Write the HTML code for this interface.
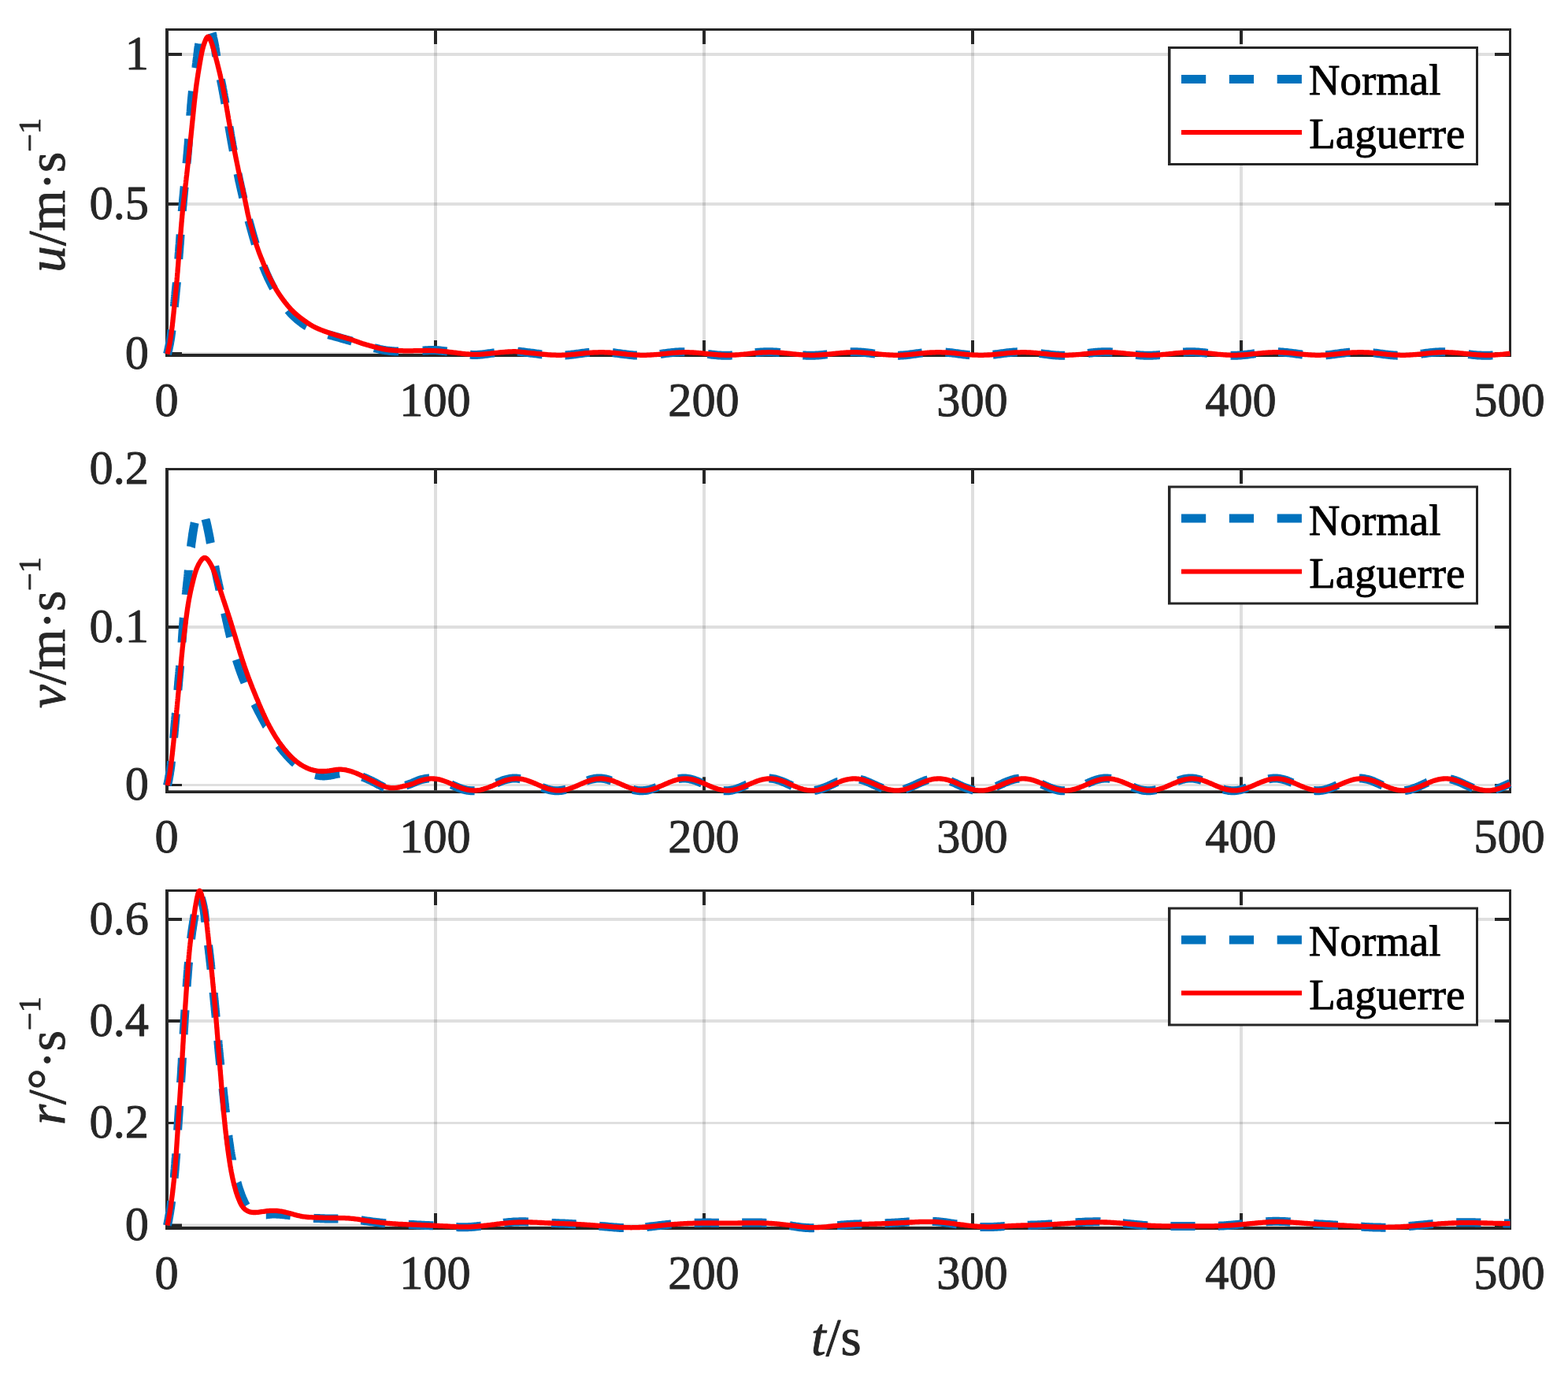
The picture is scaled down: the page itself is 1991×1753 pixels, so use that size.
<!DOCTYPE html>
<html lang="en">
<head>
<meta charset="utf-8">
<title>Normal vs Laguerre velocity responses</title>
<style>
html,body{margin:0;padding:0;background:#fff;}
body{width:1991px;height:1753px;overflow:hidden;}
svg{display:block;}
text{font-family:"Liberation Serif",serif;fill:#262626;stroke:#262626;stroke-width:0.9px;stroke-linejoin:round;}
.tk{font-size:60.4px;}
.lab{font-size:67.1px;}
.leg{font-size:54.9px;fill:#000;stroke:#000;}
.it{font-style:italic;}
.sup{font-size:40.3px;}
</style>
</head>
<body>
<svg width="1991" height="1753" viewBox="0 0 1991 1753" role="img" aria-label="Comparison of Normal and Laguerre responses: u, v and r versus t">
<rect width="1991" height="1753" fill="#fff"/>
<g id="axes1">
<g class="grid">
<rect x="551" y="39" width="4" height="410" fill="rgba(38,38,38,0.15)"/>
<rect x="892" y="39" width="4" height="410" fill="rgba(38,38,38,0.15)"/>
<rect x="1233" y="39" width="4" height="410" fill="rgba(38,38,38,0.15)"/>
<rect x="1574" y="39" width="4" height="410" fill="rgba(38,38,38,0.15)"/>
<rect x="214" y="447" width="1702" height="4" fill="rgba(38,38,38,0.15)"/>
<rect x="214" y="257" width="1702" height="4" fill="rgba(38,38,38,0.15)"/>
<rect x="214" y="67" width="1702" height="4" fill="rgba(38,38,38,0.15)"/>
</g>
<g class="box">
<rect x="210" y="36" width="4" height="417" fill="#262626"/>
<rect x="1916" y="36" width="3" height="417" fill="#262626"/>
<rect x="210" y="36" width="1709" height="3" fill="#262626"/>
<rect x="210" y="449" width="1709" height="4" fill="#262626"/>
<rect x="551" y="432" width="4" height="17" fill="#262626"/>
<rect x="551" y="39" width="4" height="17" fill="#262626"/>
<rect x="892" y="432" width="4" height="17" fill="#262626"/>
<rect x="892" y="39" width="4" height="17" fill="#262626"/>
<rect x="1233" y="432" width="4" height="17" fill="#262626"/>
<rect x="1233" y="39" width="4" height="17" fill="#262626"/>
<rect x="1574" y="432" width="4" height="17" fill="#262626"/>
<rect x="1574" y="39" width="4" height="17" fill="#262626"/>
<rect x="214" y="447" width="17" height="4" fill="#262626"/>
<rect x="1898" y="447" width="18" height="4" fill="#262626"/>
<rect x="214" y="257" width="17" height="4" fill="#262626"/>
<rect x="1898" y="257" width="18" height="4" fill="#262626"/>
<rect x="214" y="67" width="17" height="4" fill="#262626"/>
<rect x="1898" y="67" width="18" height="4" fill="#262626"/>
</g>
<path class="normal" d="M212.5 449.5L212.9 448.0L213.2 446.6L213.6 445.1L213.9 443.7L214.2 442.2L214.5 440.7L214.8 439.3L215.1 437.8L215.4 436.3L215.7 434.8L215.9 433.4L216.2 431.9L216.4 430.4L216.7 428.9L216.9 427.4L217.1 425.9L217.3 424.5L217.5 423.0L217.7 421.5L217.9 420.0L218.1 418.8M221.3 389.4L221.4 388.7L221.5 387.2L221.7 385.7L221.8 384.2L222.0 382.7L222.1 381.2L222.3 379.7L222.4 378.2L222.6 376.7L222.7 375.2L222.9 373.7L223.0 372.2L223.1 370.7L223.3 369.3L223.4 367.8L223.6 366.3L223.7 364.8L223.9 363.3L224.0 361.8L224.2 360.3L224.3 358.8L224.3 358.3M226.8 328.8L226.9 327.4L227.0 325.9L227.1 324.4L227.2 322.9L227.3 321.4L227.5 319.9L227.6 318.4L227.7 316.9L227.8 315.4L227.9 313.9L228.0 312.4L228.1 310.9L228.3 309.4L228.4 307.9L228.5 306.4L228.6 304.9L228.7 303.4L228.8 302.0L228.9 300.5L229.0 299.0L229.1 297.6M231.3 268.1L231.3 267.5L231.5 266.0L231.6 264.5L231.7 263.0L231.9 261.5L232.0 260.1L232.1 258.6L232.3 257.1L232.4 255.6L232.5 254.1L232.7 252.6L232.8 251.1L233.0 249.6L233.1 248.1L233.3 246.6L233.4 245.1L233.5 243.6L233.7 242.1L233.8 240.6L234.0 239.1L234.1 237.6L234.2 237.0M237.0 207.5L237.1 206.3L237.3 204.8L237.4 203.3L237.6 201.8L237.7 200.3L237.8 198.8L237.9 197.3L238.1 195.8L238.2 194.3L238.3 192.8L238.5 191.3L238.6 189.8L238.7 188.3L238.8 186.8L238.9 185.3L239.1 183.9L239.2 182.4L239.3 180.9L239.4 179.4L239.5 177.9L239.7 176.4M241.8 146.8L241.8 146.4L241.9 144.9L242.0 143.4L242.2 141.9L242.3 140.4L242.4 138.9L242.5 137.4L242.6 135.9L242.7 134.4L242.8 133.0L243.0 131.5L243.1 130.0L243.2 128.5L243.3 127.0L243.5 125.5L243.6 124.0L243.8 122.5L243.9 121.0L244.1 119.5L244.2 118.0L244.4 116.5L244.5 115.7M248.7 86.4L248.9 85.3L249.1 83.8L249.3 82.4L249.5 80.9L249.7 79.4L249.8 77.9L250.0 76.4L250.2 74.9L250.4 73.4L250.6 71.9L250.7 70.4L250.9 68.9L251.1 67.5L251.3 66.0L251.4 64.5L251.6 63.0L251.8 61.5L252.0 60.0L252.3 58.5L252.5 57.0L252.8 55.6L252.8 55.5M269.2 41.9L270.0 44.6L270.4 47.3L270.7 48.7L271.1 50.2L271.4 51.6L271.7 53.1L272.0 54.6L272.3 56.1L272.6 57.5L272.9 59.0L273.1 60.5L273.4 62.0L273.6 63.4L273.8 64.9L274.0 66.4L274.2 67.9L274.5 69.4L274.7 70.9L274.8 71.6M280.3 100.7L280.5 101.8L280.8 103.3L281.1 104.8L281.4 106.3L281.7 107.7L282.0 109.2L282.3 110.7L282.5 112.1L282.8 113.6L283.1 115.1L283.4 116.6L283.6 118.1L283.9 119.5L284.2 121.0L284.4 122.5L284.7 124.0L285.0 125.4L285.2 126.9L285.5 128.4L285.7 129.9L286.0 131.4L286.0 131.4M290.9 160.6L290.9 161.0L291.2 162.4L291.4 163.9L291.7 165.4L291.9 166.9L292.2 168.4L292.4 169.8L292.7 171.3L292.9 172.8L293.2 174.3L293.5 175.7L293.7 177.2L294.0 178.7L294.2 180.2L294.5 181.7L294.8 183.1L295.0 184.6L295.3 186.1L295.6 187.6L295.9 189.0L296.1 190.5L296.3 191.4M302.0 220.5L302.2 221.4L302.5 222.9L302.8 224.4L303.1 225.9L303.4 227.3L303.7 228.8L304.0 230.3L304.4 231.7L304.7 233.2L305.0 234.7L305.3 236.1L305.7 237.6L306.0 239.0L306.3 240.5L306.7 242.0L307.0 243.4L307.3 244.9L307.7 246.4L308.0 247.8L308.3 249.3L308.7 250.7L308.7 250.9M315.8 279.7L315.9 279.9L316.3 281.3L316.7 282.8L317.1 284.2L317.5 285.7L317.9 287.1L318.3 288.6L318.7 290.0L319.1 291.4L319.5 292.9L319.9 294.3L320.3 295.8L320.7 297.2L321.1 298.7L321.5 300.1L321.9 301.6L322.4 303.0L322.8 304.4L323.2 305.9L323.6 307.3L324.0 308.8L324.3 309.7M334.3 337.6L334.6 338.5L335.1 339.9L335.7 341.2L336.3 342.6L336.8 344.0L337.4 345.4L338.0 346.8L338.6 348.2L339.2 349.5L339.8 350.9L340.4 352.3L341.1 353.6L341.7 355.0L342.4 356.3L343.0 357.7L343.7 359.0L344.4 360.4L345.0 361.7L345.7 363.0L346.4 364.4L347.2 365.7L347.3 366.0M366.0 393.8L366.4 394.3L367.4 395.4L368.4 396.6L369.4 397.7L370.5 398.8L371.5 399.8L372.6 400.9L373.7 401.9L374.8 402.9L375.9 403.9L377.0 404.9L378.2 405.9L379.3 406.8L380.5 407.8L381.7 408.7L382.9 409.6L384.1 410.5L385.3 411.4L386.6 412.2L387.8 413.1L389.1 413.9L389.5 414.1M417.0 424.8L418.3 425.2L419.8 425.5L421.2 425.9L422.7 426.3L424.1 426.7L425.6 427.1L427.0 427.5L428.5 427.9L429.9 428.3L431.4 428.7L432.8 429.1L434.2 429.6L435.7 430.0L437.1 430.4L438.6 430.8L440.0 431.2L441.5 431.6L442.9 432.0L444.4 432.4L445.8 432.8L447.0 433.2M475.2 441.6L476.0 441.8L477.5 442.2L478.9 442.5L480.4 442.9L481.8 443.3L483.3 443.6L484.8 443.9L486.2 444.2L487.7 444.4L489.2 444.7L490.7 444.9L492.2 445.1L493.6 445.3L495.1 445.5L496.6 445.6L498.1 445.7L499.6 445.8L501.1 445.9L502.6 446.0L504.1 446.0L505.6 446.1L506.0 446.1M536.5 445.0L537.1 445.0L538.6 444.9L540.1 444.8L541.6 444.7L543.1 444.7L544.6 444.6L546.1 444.6L547.6 444.5L549.1 444.5L550.6 444.5L552.1 444.6L553.6 444.6L555.1 444.7L556.6 444.8L558.1 445.0L559.6 445.1L561.1 445.3L562.6 445.4L564.1 445.6L565.6 445.8L567.1 446.1L567.6 446.1M596.9 450.2L598.3 450.3L599.8 450.4L601.3 450.4L602.8 450.4L604.3 450.4L605.8 450.4L607.3 450.3L608.8 450.2L610.3 450.1L611.8 449.9L613.3 449.8L614.8 449.6L616.2 449.4L617.7 449.2L619.2 449.0L620.7 448.8L622.2 448.6L623.7 448.4L625.2 448.2L626.7 448.0L627.9 447.9M657.2 446.1L658.1 446.2L659.6 446.3L661.1 446.5L662.6 446.7L664.0 446.8L665.5 447.0L667.0 447.2L668.5 447.4L670.0 447.6L671.5 447.8L673.0 448.0L674.5 448.2L676.0 448.3L677.5 448.5L678.9 448.7L680.4 448.9L681.9 449.1L683.4 449.3L684.9 449.5L686.4 449.7L687.9 449.9L688.2 449.9M717.6 450.9L717.8 450.9L719.3 450.8L720.8 450.7L722.3 450.5L723.8 450.4L725.3 450.2L726.8 450.0L728.3 449.9L729.8 449.7L731.2 449.5L732.7 449.3L734.2 449.1L735.7 448.9L737.2 448.7L738.7 448.5L740.2 448.3L741.7 448.1L743.1 447.9L744.6 447.7L746.1 447.6L747.6 447.4L748.6 447.3M777.9 447.7L779.1 447.8L780.6 448.0L782.0 448.2L783.5 448.4L785.0 448.6L786.5 448.8L788.0 449.0L789.5 449.2L791.0 449.4L792.5 449.5L794.0 449.7L795.4 449.9L796.9 450.1L798.4 450.3L799.9 450.4L801.4 450.6L802.9 450.7L804.4 450.9L805.9 451.0L807.4 451.1L808.9 451.1L808.9 451.1M838.3 449.5L838.8 449.4L840.3 449.2L841.8 449.0L843.3 448.8L844.8 448.6L846.2 448.4L847.7 448.2L849.2 448.0L850.7 447.9L852.2 447.7L853.7 447.5L855.2 447.4L856.7 447.2L858.2 447.1L859.7 447.0L861.2 446.9L862.7 446.8L864.2 446.8L865.7 446.7L867.2 446.7L868.7 446.7L869.3 446.7M898.7 449.4L900.0 449.6L901.5 449.8L903.0 450.0L904.5 450.2L906.0 450.3L907.5 450.5L909.0 450.6L910.5 450.8L912.0 450.9L913.5 451.0L915.0 451.1L916.5 451.2L918.0 451.2L919.5 451.3L921.0 451.3L922.5 451.3L924.0 451.3L925.5 451.3L927.0 451.2L928.5 451.1L929.8 451.1M959.0 447.7L959.8 447.6L961.3 447.5L962.8 447.3L964.3 447.2L965.8 447.1L967.3 447.0L968.8 446.9L970.3 446.8L971.8 446.8L973.3 446.7L974.8 446.7L976.3 446.7L977.8 446.7L979.3 446.7L980.8 446.8L982.3 446.9L983.8 446.9L985.3 447.0L986.7 447.2L988.2 447.3L989.7 447.4L990.2 447.5M1019.4 450.9L1019.5 450.9L1021.0 451.0L1022.5 451.1L1024.0 451.2L1025.5 451.2L1027.0 451.3L1028.5 451.3L1030.0 451.3L1031.5 451.3L1033.0 451.2L1034.5 451.2L1036.0 451.1L1037.5 451.0L1039.0 450.9L1040.5 450.8L1042.0 450.7L1043.5 450.6L1045.0 450.4L1046.5 450.2L1048.0 450.1L1049.5 449.9L1050.5 449.8M1079.7 446.7L1080.8 446.7L1082.3 446.7L1083.8 446.7L1085.3 446.7L1086.8 446.8L1088.3 446.8L1089.8 446.9L1091.3 447.0L1092.8 447.1L1094.3 447.2L1095.8 447.3L1097.3 447.5L1098.8 447.6L1100.3 447.8L1101.8 448.0L1103.3 448.1L1104.8 448.3L1106.3 448.5L1107.7 448.7L1109.2 448.9L1110.7 449.1L1110.8 449.1M1140.1 451.2L1140.6 451.2L1142.1 451.2L1143.6 451.1L1145.1 451.0L1146.6 450.9L1148.1 450.8L1149.6 450.7L1151.1 450.5L1152.6 450.4L1154.1 450.2L1155.6 450.0L1157.1 449.8L1158.6 449.6L1160.0 449.4L1161.5 449.2L1163.0 449.0L1164.5 448.8L1166.0 448.6L1167.5 448.4L1169.0 448.2L1170.5 448.1L1171.1 448.0M1200.5 447.1L1201.9 447.2L1203.4 447.4L1204.9 447.5L1206.4 447.7L1207.9 447.8L1209.4 448.0L1210.8 448.2L1212.3 448.4L1213.8 448.6L1215.3 448.8L1216.8 449.0L1218.3 449.2L1219.8 449.4L1221.3 449.6L1222.7 449.8L1224.2 450.0L1225.7 450.1L1227.2 450.3L1228.7 450.5L1230.2 450.6L1231.4 450.7M1260.8 450.2L1261.7 450.1L1263.1 450.0L1264.6 449.8L1266.1 449.6L1267.6 449.4L1269.1 449.2L1270.6 449.0L1272.1 448.8L1273.6 448.6L1275.0 448.4L1276.5 448.2L1278.0 448.0L1279.5 447.8L1281.0 447.7L1282.5 447.5L1284.0 447.4L1285.5 447.2L1287.0 447.1L1288.5 447.0L1290.0 446.9L1291.5 446.8L1291.8 446.8M1321.2 448.6L1321.4 448.7L1322.9 448.9L1324.4 449.1L1325.9 449.3L1327.3 449.4L1328.8 449.6L1330.3 449.8L1331.8 450.0L1333.3 450.2L1334.8 450.4L1336.3 450.5L1337.8 450.7L1339.3 450.8L1340.8 450.9L1342.3 451.0L1343.8 451.1L1345.3 451.2L1346.8 451.2L1348.3 451.3L1349.8 451.3L1351.3 451.3L1352.2 451.3M1381.5 448.5L1382.6 448.3L1384.1 448.1L1385.6 448.0L1387.1 447.8L1388.6 447.6L1390.1 447.5L1391.6 447.3L1393.1 447.2L1394.6 447.1L1396.1 447.0L1397.6 446.9L1399.1 446.8L1400.6 446.8L1402.1 446.7L1403.6 446.7L1405.1 446.7L1406.6 446.7L1408.1 446.8L1409.6 446.8L1411.1 446.9L1412.6 447.0L1412.6 447.0M1441.9 450.4L1442.4 450.4L1443.9 450.6L1445.4 450.7L1446.8 450.8L1448.3 450.9L1449.8 451.0L1451.3 451.1L1452.8 451.2L1454.3 451.2L1455.8 451.3L1457.3 451.3L1458.8 451.3L1460.3 451.3L1461.8 451.2L1463.3 451.2L1464.8 451.1L1466.3 451.0L1467.8 450.9L1469.3 450.8L1470.8 450.7L1472.3 450.5L1473.0 450.5M1502.3 447.0L1503.6 446.9L1505.1 446.9L1506.6 446.8L1508.1 446.7L1509.6 446.7L1511.1 446.7L1512.6 446.7L1514.1 446.7L1515.6 446.8L1517.1 446.8L1518.6 446.9L1520.1 447.0L1521.6 447.1L1523.1 447.2L1524.6 447.4L1526.1 447.5L1527.6 447.7L1529.1 447.8L1530.6 448.0L1532.1 448.2L1533.4 448.4M1562.6 451.3L1563.4 451.3L1564.9 451.3L1566.4 451.3L1567.9 451.3L1569.4 451.2L1570.9 451.2L1572.4 451.1L1573.9 451.0L1575.4 450.9L1576.9 450.8L1578.4 450.6L1579.9 450.5L1581.4 450.3L1582.9 450.2L1584.4 450.0L1585.9 449.8L1587.3 449.6L1588.8 449.4L1590.3 449.2L1591.8 449.0L1593.3 448.8L1593.7 448.7M1623.0 446.8L1623.2 446.8L1624.7 446.8L1626.2 446.9L1627.7 447.0L1629.2 447.1L1630.7 447.3L1632.2 447.4L1633.7 447.5L1635.2 447.7L1636.7 447.9L1638.2 448.1L1639.6 448.2L1641.1 448.4L1642.6 448.6L1644.1 448.8L1645.6 449.0L1647.1 449.2L1648.6 449.4L1650.1 449.6L1651.5 449.8L1653.0 450.0L1654.0 450.1M1683.3 450.8L1684.5 450.7L1686.0 450.6L1687.5 450.4L1689.0 450.3L1690.5 450.1L1691.9 449.9L1693.4 449.7L1694.9 449.5L1696.4 449.3L1697.9 449.1L1699.4 448.9L1700.9 448.7L1702.4 448.5L1703.8 448.3L1705.3 448.2L1706.8 448.0L1708.3 447.8L1709.8 447.6L1711.3 447.5L1712.8 447.3L1714.3 447.2L1714.3 447.2M1743.7 447.9L1744.2 447.9L1745.7 448.1L1747.2 448.3L1748.7 448.5L1750.2 448.7L1751.7 448.9L1753.2 449.1L1754.7 449.3L1756.1 449.5L1757.6 449.7L1759.1 449.9L1760.6 450.1L1762.1 450.2L1763.6 450.4L1765.1 450.5L1766.6 450.7L1768.1 450.8L1769.6 450.9L1771.1 451.0L1772.6 451.1L1774.1 451.2L1774.7 451.2M1804.1 449.3L1805.5 449.1L1807.0 448.9L1808.4 448.7L1809.9 448.5L1811.4 448.3L1812.9 448.1L1814.4 447.9L1815.9 447.7L1817.4 447.6L1818.9 447.4L1820.4 447.3L1821.9 447.2L1823.4 447.0L1824.9 446.9L1826.4 446.9L1827.9 446.8L1829.4 446.7L1830.9 446.7L1832.4 446.7L1833.9 446.7L1835.1 446.7M1864.4 449.6L1865.2 449.7L1866.7 449.9L1868.2 450.1L1869.7 450.3L1871.2 450.4L1872.7 450.6L1874.2 450.7L1875.6 450.9L1877.1 451.0L1878.6 451.1L1880.1 451.1L1881.6 451.2L1883.1 451.3L1884.6 451.3L1886.1 451.3L1887.6 451.3L1889.1 451.3L1890.6 451.2L1892.1 451.2L1893.6 451.1L1895.1 451.0L1895.5 451.0" fill="none" stroke="#0072bd" stroke-width="11.0" stroke-linejoin="round"/>
<path class="laguerre" d="M212.5 449.5L212.9 448.0L213.2 446.6L213.6 445.1L213.9 443.7L214.2 442.2L214.5 440.7L214.8 439.3L215.1 437.8L215.4 436.3L215.7 434.8L215.9 433.4L216.2 431.9L216.4 430.4L216.7 428.9L216.9 427.4L217.1 425.9L217.3 424.5L217.5 423.0L217.7 421.5L217.9 420.0L218.1 418.5L218.3 417.0L218.5 415.5L218.7 414.0L218.9 412.5L219.0 411.1L219.2 409.6L219.4 408.1L219.5 406.6L219.7 405.1L219.8 403.6L220.0 402.1L220.2 400.6L220.3 399.1L220.5 397.6L220.6 396.1L220.8 394.6L220.9 393.1L221.1 391.6L221.2 390.2L221.4 388.7L221.5 387.2L221.7 385.7L221.8 384.2L222.0 382.7L222.1 381.2L222.3 379.7L222.4 378.2L222.6 376.7L222.7 375.2L222.9 373.7L223.0 372.2L223.2 370.7L223.3 369.2L223.4 367.8L223.6 366.3L223.7 364.8L223.9 363.3L224.0 361.8L224.2 360.3L224.3 358.8L224.4 357.3L224.6 355.8L224.7 354.3L224.8 352.8L225.0 351.3L225.1 349.8L225.2 348.3L225.3 346.8L225.5 345.3L225.6 343.8L225.7 342.3L225.8 340.8L225.9 339.4L226.1 337.9L226.2 336.4L226.3 334.9L226.4 333.4L226.5 331.9L226.6 330.4L226.8 328.9L226.9 327.4L227.0 325.9L227.1 324.4L227.2 322.9L227.4 321.4L227.5 319.9L227.6 318.4L227.7 316.9L227.8 315.4L228.0 313.9L228.1 312.4L228.2 310.9L228.3 309.4L228.5 307.9L228.6 306.4L228.7 304.9L228.8 303.4L228.9 302.0L229.1 300.5L229.2 299.0L229.3 297.5L229.4 296.0L229.6 294.5L229.7 293.0L229.8 291.5L229.9 290.0L230.0 288.5L230.2 287.0L230.3 285.5L230.4 284.0L230.5 282.5L230.7 281.0L230.8 279.5L230.9 278.0L231.1 276.5L231.2 275.0L231.3 273.5L231.5 272.0L231.6 270.5L231.7 269.1L231.9 267.6L232.0 266.1L232.2 264.6L232.3 263.1L232.5 261.6L232.7 260.1L232.8 258.6L233.0 257.1L233.2 255.6L233.3 254.1L233.5 252.6L233.7 251.2L233.9 249.7L234.0 248.2L234.2 246.7L234.4 245.2L234.6 243.7L234.7 242.2L234.9 240.7L235.1 239.2L235.3 237.7L235.4 236.2L235.6 234.8L235.8 233.3L236.0 231.8L236.1 230.3L236.3 228.8L236.5 227.3L236.6 225.8L236.8 224.3L237.0 222.8L237.2 221.3L237.3 219.9L237.5 218.4L237.7 216.9L237.8 215.4L238.0 213.9L238.2 212.4L238.3 210.9L238.5 209.4L238.7 207.9L238.8 206.4L239.0 204.9L239.1 203.4L239.3 201.9L239.5 200.4L239.6 199.0L239.8 197.5L240.0 196.0L240.1 194.5L240.3 193.0L240.5 191.5L240.6 190.0L240.8 188.5L240.9 187.0L241.1 185.5L241.3 184.0L241.4 182.5L241.6 181.0L241.7 179.5L241.9 178.0L242.0 176.5L242.2 175.0L242.4 173.5L242.5 172.0L242.7 170.6L242.8 169.1L243.0 167.6L243.1 166.1L243.3 164.6L243.4 163.1L243.6 161.6L243.7 160.1L243.9 158.6L244.0 157.2L244.2 155.7L244.3 154.2L244.5 152.7L244.6 151.2L244.8 149.8L244.9 148.3L245.1 146.8L245.2 145.3L245.4 143.8L245.5 142.4L245.7 140.9L245.8 139.4L246.0 137.9L246.1 136.5L246.3 135.0L246.4 133.5L246.6 132.0L246.7 130.5L246.9 129.0L247.1 127.6L247.2 126.1L247.4 124.6L247.6 123.1L247.7 121.6L247.9 120.1L248.1 118.6L248.3 117.1L248.5 115.6L248.6 114.1L248.8 112.6L249.0 111.1L249.2 109.5L249.4 108.0L249.6 106.5L249.8 105.0L250.1 103.4L250.3 101.9L250.5 100.4L250.7 98.8L251.0 97.3L251.2 95.8L251.4 94.2L251.7 92.7L251.9 91.2L252.2 89.6L252.4 88.1L252.7 86.6L252.9 85.1L253.2 83.6L253.4 82.2L253.7 80.7L253.9 79.2L254.2 77.8L254.4 76.4L254.7 75.0L254.9 73.6L255.2 72.2L255.4 70.8L255.7 69.5L256.0 68.2L256.2 66.8L256.5 65.5L256.8 64.2L257.1 62.8L257.5 61.4L257.9 59.9L258.3 58.3L258.9 56.7L259.4 55.0L260.1 53.2L260.8 51.4L261.5 49.7L262.3 48.2L263.1 47.2L263.9 46.6L264.7 46.7L265.5 47.5L266.3 48.7L267.0 50.2L267.7 52.0L268.4 53.8L269.0 55.5L269.5 57.2L270.0 58.8L270.5 60.3L270.9 61.7L271.3 63.1L271.7 64.4L272.0 65.7L272.4 67.0L272.8 68.3L273.1 69.6L273.5 71.0L273.8 72.3L274.2 73.7L274.5 75.1L274.9 76.5L275.3 77.9L275.6 79.3L276.0 80.8L276.4 82.2L276.7 83.7L277.1 85.1L277.5 86.6L277.8 88.1L278.2 89.6L278.6 91.1L278.9 92.6L279.3 94.1L279.6 95.6L280.0 97.1L280.3 98.7L280.7 100.2L281.0 101.7L281.3 103.2L281.7 104.7L282.0 106.2L282.3 107.7L282.6 109.2L282.9 110.7L283.2 112.2L283.5 113.7L283.8 115.2L284.1 116.7L284.4 118.2L284.7 119.7L285.0 121.2L285.2 122.6L285.5 124.1L285.8 125.6L286.1 127.1L286.3 128.5L286.6 130.0L286.8 131.5L287.1 132.9L287.4 134.4L287.6 135.9L287.9 137.3L288.1 138.8L288.4 140.3L288.6 141.7L288.9 143.2L289.1 144.7L289.4 146.1L289.6 147.6L289.9 149.1L290.1 150.5L290.4 152.0L290.6 153.5L290.9 154.9L291.2 156.4L291.4 157.9L291.7 159.3L291.9 160.8L292.2 162.3L292.5 163.7L292.7 165.2L293.0 166.7L293.3 168.2L293.5 169.6L293.8 171.1L294.1 172.6L294.4 174.1L294.6 175.5L294.9 177.0L295.2 178.5L295.5 180.0L295.8 181.4L296.0 182.9L296.3 184.4L296.6 185.9L296.9 187.3L297.2 188.8L297.5 190.3L297.8 191.8L298.1 193.2L298.4 194.7L298.7 196.2L299.0 197.7L299.3 199.1L299.6 200.6L299.9 202.1L300.2 203.6L300.5 205.0L300.8 206.5L301.1 208.0L301.4 209.5L301.7 210.9L302.0 212.4L302.3 213.9L302.6 215.3L302.9 216.8L303.2 218.3L303.6 219.7L303.9 221.2L304.2 222.7L304.5 224.1L304.8 225.6L305.1 227.1L305.5 228.5L305.8 230.0L306.1 231.5L306.4 232.9L306.8 234.4L307.1 235.9L307.4 237.3L307.7 238.8L308.1 240.2L308.4 241.7L308.7 243.2L309.0 244.6L309.4 246.1L309.7 247.6L310.0 249.0L310.3 250.5L310.7 252.0L311.0 253.4L311.3 254.9L311.6 256.4L311.9 257.8L312.2 259.3L312.5 260.8L312.8 262.2L313.1 263.7L313.4 265.2L313.7 266.7L314.0 268.1L314.3 269.6L314.6 271.1L314.9 272.5L315.3 274.0L315.6 275.5L315.9 276.9L316.3 278.4L316.7 279.8L317.0 281.3L317.4 282.7L317.8 284.2L318.2 285.6L318.6 287.1L319.0 288.5L319.4 290.0L319.8 291.4L320.2 292.9L320.6 294.3L321.0 295.8L321.4 297.2L321.9 298.7L322.3 300.1L322.7 301.5L323.1 303.0L323.5 304.4L324.0 305.8L324.4 307.3L324.9 308.7L325.3 310.1L325.8 311.6L326.3 313.0L326.8 314.4L327.3 315.8L327.8 317.2L328.3 318.6L328.8 320.1L329.3 321.5L329.9 322.9L330.4 324.3L331.0 325.7L331.5 327.1L332.1 328.4L332.6 329.8L333.2 331.2L333.8 332.6L334.3 334.0L334.9 335.4L335.5 336.8L336.1 338.2L336.7 339.5L337.3 340.9L337.9 342.3L338.5 343.7L339.1 345.0L339.7 346.4L340.4 347.8L341.0 349.1L341.6 350.5L342.3 351.8L342.9 353.2L343.6 354.5L344.3 355.9L345.0 357.2L345.7 358.5L346.4 359.9L347.1 361.2L347.8 362.5L348.6 363.8L349.3 365.1L350.1 366.4L350.8 367.7L351.6 369.0L352.4 370.2L353.2 371.5L354.0 372.7L354.9 374.0L355.7 375.2L356.6 376.5L357.4 377.7L358.3 378.9L359.2 380.1L360.1 381.3L361.0 382.5L361.9 383.7L362.9 384.9L363.8 386.1L364.7 387.2L365.7 388.4L366.7 389.5L367.7 390.7L368.7 391.8L369.7 392.9L370.8 394.0L371.8 395.0L372.9 396.1L374.0 397.1L375.1 398.1L376.2 399.1L377.4 400.0L378.5 401.0L379.7 401.9L380.9 402.9L382.1 403.8L383.3 404.7L384.5 405.6L385.7 406.4L386.9 407.3L388.2 408.2L389.4 409.1L390.6 409.9L391.9 410.8L393.2 411.6L394.4 412.4L395.7 413.1L397.0 413.9L398.3 414.6L399.7 415.3L401.0 415.9L402.4 416.6L403.8 417.2L405.1 417.7L406.5 418.3L407.9 418.9L409.3 419.4L410.7 420.0L412.1 420.5L413.5 421.0L415.0 421.5L416.4 422.0L417.8 422.5L419.2 423.0L420.6 423.5L422.1 423.9L423.5 424.4L424.9 424.8L426.4 425.3L427.8 425.7L429.2 426.1L430.7 426.5L432.1 426.9L433.6 427.4L435.0 427.8L436.5 428.2L437.9 428.6L439.3 429.0L440.8 429.5L442.2 429.9L443.6 430.3L445.1 430.8L446.5 431.3L447.9 431.8L449.3 432.2L450.7 432.8L452.2 433.3L453.6 433.8L455.0 434.3L456.4 434.8L457.8 435.2L459.2 435.7L460.7 436.2L462.1 436.6L463.5 437.0L465.0 437.5L466.4 437.9L467.9 438.3L469.3 438.7L470.8 439.1L472.2 439.5L473.6 439.9L475.1 440.3L476.5 440.7L478.0 441.1L479.5 441.5L480.9 441.8L482.4 442.2L483.8 442.5L485.3 442.8L486.8 443.1L488.3 443.4L489.7 443.7L491.2 443.9L492.7 444.1L494.2 444.3L495.7 444.4L497.2 444.6L498.7 444.7L500.2 444.8L501.7 444.9L503.2 445.0L504.7 445.1L506.2 445.1L507.7 445.2L509.2 445.2L510.7 445.2L512.2 445.3L513.7 445.3L515.2 445.3L516.7 445.3L518.2 445.3L519.7 445.3L521.2 445.3L522.7 445.3L524.2 445.3L525.7 445.2L527.2 445.2L528.7 445.2L530.2 445.2L531.7 445.2L533.2 445.1L534.7 445.1L536.2 445.1L537.7 445.1L539.2 445.0L540.7 445.0L542.2 445.0L543.7 445.0L545.2 445.0L546.7 445.0L548.2 445.1L549.7 445.1L551.2 445.1L552.7 445.2L554.2 445.3L555.7 445.4L557.2 445.5L558.7 445.6L560.2 445.7L561.7 445.8L563.2 446.0L564.7 446.1L566.1 446.3L567.6 446.4L569.1 446.6L570.6 446.8L572.1 447.0L573.6 447.1L575.1 447.3L576.6 447.5L578.1 447.7L579.6 447.9L581.0 448.1L582.5 448.3L584.0 448.4L585.5 448.6L587.0 448.8L588.5 449.0L590.0 449.1L591.5 449.3L593.0 449.4L594.5 449.5L596.0 449.6L597.5 449.7L599.0 449.8L600.5 449.8L602.0 449.9L603.5 449.9L605.0 449.9L606.5 449.9L608.0 449.8L609.5 449.8L611.0 449.7L612.5 449.6L614.0 449.5L615.5 449.3L617.0 449.2L618.5 449.1L620.0 448.9L621.4 448.8L622.9 448.6L624.4 448.4L625.9 448.3L627.4 448.1L628.9 448.0L630.4 447.8L631.9 447.7L633.4 447.5L634.9 447.4L636.4 447.2L637.9 447.1L639.4 447.0L640.9 446.8L642.4 446.7L643.9 446.6L645.4 446.5L646.9 446.4L648.4 446.3L649.9 446.3L651.4 446.2L652.9 446.2L654.4 446.2L655.9 446.3L657.4 446.4L658.9 446.5L660.3 446.7L661.8 446.8L663.3 447.0L664.8 447.2L666.3 447.4L667.8 447.5L669.3 447.7L670.8 447.9L672.3 448.0L673.8 448.1L675.3 448.3L676.8 448.4L678.3 448.5L679.8 448.7L681.2 448.8L682.7 449.0L684.2 449.1L685.7 449.3L687.2 449.4L688.7 449.6L690.2 449.7L691.7 449.9L693.2 450.0L694.7 450.1L696.2 450.3L697.7 450.4L699.2 450.5L700.7 450.6L702.2 450.6L703.7 450.7L705.2 450.7L706.7 450.8L708.2 450.8L709.7 450.8L711.2 450.8L712.7 450.8L714.2 450.7L715.7 450.7L717.2 450.6L718.7 450.6L720.2 450.5L721.7 450.4L723.2 450.3L724.7 450.1L726.2 450.0L727.7 449.9L729.2 449.8L730.7 449.6L732.1 449.5L733.6 449.3L735.1 449.1L736.6 449.0L738.1 448.8L739.6 448.7L741.1 448.5L742.6 448.4L744.1 448.2L745.6 448.1L747.1 448.0L748.6 447.8L750.1 447.7L751.6 447.6L753.1 447.5L754.6 447.4L756.1 447.4L757.6 447.3L759.1 447.3L760.6 447.2L762.1 447.2L763.6 447.2L765.1 447.2L766.6 447.2L768.1 447.3L769.6 447.3L771.1 447.4L772.6 447.5L774.1 447.5L775.6 447.6L777.1 447.8L778.6 447.9L780.0 448.0L781.5 448.1L783.0 448.3L784.5 448.4L786.0 448.6L787.5 448.7L789.0 448.9L790.5 449.0L792.0 449.2L793.5 449.4L795.0 449.5L796.5 449.7L798.0 449.8L799.5 449.9L801.0 450.1L802.5 450.2L803.9 450.3L805.4 450.4L806.9 450.5L808.4 450.6L809.9 450.7L811.4 450.7L812.9 450.8L814.4 450.8L815.9 450.8L817.4 450.8L818.9 450.8L820.4 450.8L821.9 450.7L823.4 450.7L824.9 450.6L826.4 450.5L827.9 450.4L829.4 450.3L830.9 450.2L832.4 450.1L833.9 450.0L835.4 449.8L836.9 449.7L838.4 449.5L839.9 449.4L841.4 449.2L842.9 449.1L844.4 448.9L845.9 448.8L847.4 448.6L848.9 448.5L850.4 448.3L851.8 448.2L853.3 448.0L854.8 447.9L856.3 447.8L857.8 447.7L859.3 447.6L860.8 447.5L862.3 447.4L863.8 447.3L865.3 447.3L866.8 447.2L868.3 447.2L869.8 447.2L871.3 447.2L872.8 447.2L874.3 447.2L875.8 447.3L877.3 447.3L878.8 447.4L880.3 447.5L881.8 447.6L883.3 447.7L884.8 447.8L886.3 447.9L887.8 448.1L889.3 448.2L890.8 448.3L892.3 448.5L893.8 448.6L895.3 448.8L896.8 449.0L898.3 449.1L899.8 449.3L901.2 449.4L902.7 449.6L904.2 449.7L905.7 449.9L907.2 450.0L908.7 450.1L910.2 450.2L911.7 450.4L913.2 450.5L914.7 450.5L916.2 450.6L917.7 450.7L919.2 450.7L920.7 450.8L922.2 450.8L923.7 450.8L925.2 450.8L926.7 450.8L928.2 450.7L929.7 450.7L931.2 450.6L932.7 450.6L934.2 450.5L935.7 450.4L937.2 450.3L938.7 450.2L940.2 450.0L941.7 449.9L943.2 449.8L944.7 449.6L946.2 449.5L947.7 449.3L949.2 449.2L950.6 449.0L952.1 448.9L953.6 448.7L955.1 448.5L956.6 448.4L958.1 448.2L959.6 448.1L961.1 448.0L962.6 447.8L964.1 447.7L965.6 447.6L967.1 447.5L968.6 447.4L970.1 447.4L971.6 447.3L973.1 447.3L974.6 447.2L976.1 447.2L977.6 447.2L979.1 447.2L980.6 447.2L982.1 447.3L983.6 447.3L985.1 447.4L986.6 447.4L988.1 447.5L989.6 447.6L991.1 447.7L992.6 447.9L994.1 448.0L995.6 448.1L997.1 448.3L998.6 448.4L1000.0 448.6L1001.5 448.7L1003.0 448.9L1004.5 449.0L1006.0 449.2L1007.5 449.3L1009.0 449.5L1010.5 449.6L1012.0 449.8L1013.5 449.9L1015.0 450.1L1016.5 450.2L1018.0 450.3L1019.5 450.4L1021.0 450.5L1022.5 450.6L1024.0 450.6L1025.5 450.7L1027.0 450.7L1028.5 450.8L1030.0 450.8L1031.5 450.8L1033.0 450.8L1034.5 450.8L1036.0 450.7L1037.5 450.7L1039.0 450.6L1040.5 450.5L1042.0 450.4L1043.5 450.3L1045.0 450.2L1046.5 450.1L1048.0 450.0L1049.4 449.9L1050.9 449.7L1052.4 449.6L1053.9 449.4L1055.4 449.3L1056.9 449.1L1058.4 448.9L1059.9 448.8L1061.4 448.6L1062.9 448.5L1064.4 448.3L1065.9 448.2L1067.4 448.0L1068.9 447.9L1070.4 447.8L1071.9 447.7L1073.4 447.6L1074.9 447.5L1076.3 447.4L1077.8 447.3L1079.3 447.3L1080.8 447.2L1082.3 447.2L1083.9 447.2L1085.4 447.2L1086.9 447.2L1088.4 447.2L1089.9 447.3L1091.4 447.3L1092.9 447.4L1094.4 447.5L1095.8 447.6L1097.3 447.7L1098.8 447.8L1100.3 447.9L1101.8 448.0L1103.3 448.2L1104.8 448.3L1106.3 448.5L1107.8 448.6L1109.3 448.8L1110.8 448.9L1112.3 449.1L1113.8 449.2L1115.3 449.4L1116.8 449.6L1118.3 449.7L1119.8 449.8L1121.2 450.0L1122.7 450.1L1124.2 450.2L1125.7 450.3L1127.2 450.4L1128.7 450.5L1130.2 450.6L1131.7 450.7L1133.2 450.7L1134.7 450.8L1136.2 450.8L1137.7 450.8L1139.2 450.8L1140.7 450.8L1142.2 450.8L1143.7 450.7L1145.2 450.6L1146.7 450.6L1148.2 450.5L1149.7 450.4L1151.2 450.3L1152.7 450.2L1154.2 450.1L1155.7 449.9L1157.2 449.8L1158.7 449.6L1160.2 449.5L1161.7 449.3L1163.2 449.2L1164.7 449.0L1166.2 448.9L1167.7 448.7L1169.2 448.6L1170.6 448.4L1172.1 448.3L1173.6 448.1L1175.1 448.0L1176.6 447.9L1178.1 447.7L1179.6 447.6L1181.1 447.5L1182.6 447.5L1184.1 447.4L1185.6 447.3L1187.1 447.3L1188.6 447.2L1190.1 447.2L1191.6 447.2L1193.1 447.2L1194.6 447.2L1196.1 447.3L1197.6 447.3L1199.1 447.4L1200.6 447.4L1202.1 447.5L1203.6 447.6L1205.1 447.7L1206.6 447.8L1208.1 448.0L1209.6 448.1L1211.1 448.2L1212.6 448.4L1214.1 448.5L1215.6 448.7L1217.1 448.8L1218.6 449.0L1220.0 449.2L1221.5 449.3L1223.0 449.5L1224.5 449.6L1226.0 449.8L1227.5 449.9L1229.0 450.0L1230.5 450.2L1232.0 450.3L1233.5 450.4L1235.0 450.5L1236.5 450.6L1238.0 450.6L1239.5 450.7L1241.0 450.7L1242.5 450.8L1244.0 450.8L1245.5 450.8L1247.0 450.8L1248.5 450.8L1250.0 450.7L1251.5 450.7L1253.0 450.6L1254.5 450.5L1256.0 450.5L1257.5 450.4L1259.0 450.3L1260.5 450.1L1262.0 450.0L1263.5 449.9L1265.0 449.7L1266.5 449.6L1268.0 449.4L1269.4 449.3L1270.9 449.1L1272.4 449.0L1273.9 448.8L1275.4 448.7L1276.9 448.5L1278.4 448.4L1279.9 448.2L1281.4 448.1L1282.9 447.9L1284.4 447.8L1285.9 447.7L1287.4 447.6L1288.9 447.5L1290.4 447.4L1291.9 447.4L1293.4 447.3L1294.9 447.3L1296.4 447.2L1297.9 447.2L1299.4 447.2L1300.9 447.2L1302.4 447.2L1303.9 447.3L1305.4 447.3L1306.9 447.4L1308.4 447.5L1309.9 447.6L1311.4 447.7L1312.9 447.8L1314.4 447.9L1315.9 448.0L1317.4 448.2L1318.8 448.3L1320.3 448.4L1321.8 448.6L1323.3 448.8L1324.8 448.9L1326.3 449.1L1327.8 449.2L1329.3 449.4L1330.8 449.5L1332.3 449.7L1333.8 449.8L1335.3 450.0L1336.8 450.1L1338.3 450.2L1339.8 450.3L1341.3 450.4L1342.8 450.5L1344.3 450.6L1345.8 450.7L1347.3 450.7L1348.8 450.8L1350.3 450.8L1351.8 450.8L1353.3 450.8L1354.8 450.8L1356.3 450.8L1357.8 450.7L1359.3 450.7L1360.8 450.6L1362.3 450.5L1363.8 450.4L1365.3 450.3L1366.8 450.2L1368.2 450.1L1369.7 450.0L1371.2 449.8L1372.7 449.7L1374.2 449.5L1375.7 449.4L1377.2 449.2L1378.7 449.1L1380.2 448.9L1381.7 448.7L1383.2 448.6L1384.7 448.4L1386.2 448.3L1387.7 448.1L1389.2 448.0L1390.7 447.9L1392.1 447.8L1393.6 447.7L1395.1 447.6L1396.6 447.5L1398.1 447.4L1399.6 447.3L1401.1 447.3L1402.6 447.2L1404.1 447.2L1405.6 447.2L1407.1 447.2L1408.6 447.2L1410.1 447.3L1411.6 447.3L1413.1 447.4L1414.6 447.4L1416.1 447.5L1417.6 447.6L1419.1 447.7L1420.6 447.8L1422.1 447.9L1423.6 448.1L1425.1 448.2L1426.6 448.4L1428.1 448.5L1429.6 448.7L1431.1 448.8L1432.6 449.0L1434.1 449.1L1435.6 449.3L1437.1 449.4L1438.6 449.6L1440.0 449.7L1441.5 449.9L1443.0 450.0L1444.5 450.1L1446.0 450.3L1447.5 450.4L1449.0 450.5L1450.5 450.5L1452.0 450.6L1453.5 450.7L1455.0 450.7L1456.5 450.8L1458.0 450.8L1459.5 450.8L1461.0 450.8L1462.5 450.8L1464.0 450.7L1465.5 450.7L1467.0 450.6L1468.5 450.6L1470.0 450.5L1471.5 450.4L1473.0 450.3L1474.5 450.2L1476.0 450.0L1477.5 449.9L1479.0 449.8L1480.5 449.6L1482.0 449.5L1483.5 449.3L1485.0 449.1L1486.5 449.0L1488.0 448.8L1489.4 448.7L1490.9 448.5L1492.4 448.4L1493.9 448.2L1495.4 448.1L1496.9 448.0L1498.4 447.8L1499.9 447.7L1501.4 447.6L1502.9 447.5L1504.4 447.4L1505.9 447.4L1507.4 447.3L1508.9 447.3L1510.4 447.2L1511.9 447.2L1513.4 447.2L1514.9 447.2L1516.4 447.2L1517.9 447.3L1519.4 447.3L1520.9 447.4L1522.4 447.5L1523.9 447.5L1525.4 447.6L1526.9 447.8L1528.4 447.9L1529.9 448.0L1531.4 448.1L1532.9 448.3L1534.4 448.4L1535.9 448.6L1537.4 448.7L1538.8 448.9L1540.3 449.0L1541.8 449.2L1543.3 449.4L1544.8 449.5L1546.3 449.7L1547.8 449.8L1549.3 449.9L1550.8 450.1L1552.3 450.2L1553.8 450.3L1555.3 450.4L1556.8 450.5L1558.3 450.6L1559.8 450.7L1561.3 450.7L1562.8 450.8L1564.3 450.8L1565.8 450.8L1567.3 450.8L1568.8 450.8L1570.3 450.8L1571.8 450.7L1573.3 450.7L1574.8 450.6L1576.3 450.5L1577.8 450.4L1579.3 450.3L1580.8 450.2L1582.3 450.1L1583.8 450.0L1585.3 449.8L1586.8 449.7L1588.3 449.5L1589.7 449.4L1591.2 449.2L1592.7 449.1L1594.2 448.9L1595.7 448.8L1597.2 448.6L1598.7 448.5L1600.2 448.3L1601.7 448.2L1603.2 448.0L1604.7 447.9L1606.2 447.8L1607.7 447.7L1609.2 447.6L1610.7 447.5L1612.2 447.4L1613.7 447.3L1615.2 447.3L1616.7 447.2L1618.2 447.2L1619.7 447.2L1621.2 447.2L1622.7 447.2L1624.2 447.2L1625.7 447.3L1627.2 447.3L1628.7 447.4L1630.2 447.5L1631.7 447.6L1633.2 447.7L1634.7 447.8L1636.2 447.9L1637.6 448.1L1639.1 448.2L1640.6 448.3L1642.1 448.5L1643.6 448.6L1645.1 448.8L1646.6 449.0L1648.1 449.1L1649.6 449.3L1651.1 449.4L1652.6 449.6L1654.1 449.7L1655.6 449.9L1657.1 450.0L1658.6 450.1L1660.1 450.2L1661.5 450.4L1663.0 450.4L1664.5 450.5L1666.0 450.6L1667.5 450.7L1669.0 450.7L1670.5 450.8L1672.0 450.8L1673.5 450.8L1675.0 450.8L1676.5 450.8L1678.0 450.7L1679.5 450.7L1681.0 450.6L1682.5 450.6L1684.0 450.5L1685.5 450.4L1687.0 450.3L1688.5 450.2L1690.0 450.0L1691.5 449.9L1693.0 449.8L1694.5 449.6L1696.0 449.5L1697.5 449.3L1699.0 449.2L1700.5 449.0L1702.0 448.9L1703.5 448.7L1705.0 448.5L1706.5 448.4L1708.0 448.3L1709.4 448.1L1710.9 448.0L1712.4 447.9L1713.9 447.7L1715.4 447.6L1716.9 447.5L1718.4 447.4L1719.9 447.4L1721.4 447.3L1722.9 447.3L1724.4 447.2L1725.9 447.2L1727.4 447.2L1728.9 447.2L1730.4 447.2L1731.9 447.3L1733.4 447.3L1734.9 447.4L1736.4 447.4L1737.9 447.5L1739.4 447.6L1740.9 447.7L1742.4 447.9L1743.9 448.0L1745.4 448.1L1746.9 448.3L1748.4 448.4L1749.9 448.5L1751.4 448.7L1752.9 448.9L1754.4 449.0L1755.9 449.2L1757.4 449.3L1758.8 449.5L1760.3 449.6L1761.8 449.8L1763.3 449.9L1764.8 450.0L1766.3 450.2L1767.8 450.3L1769.3 450.4L1770.8 450.5L1772.3 450.6L1773.8 450.6L1775.3 450.7L1776.8 450.7L1778.3 450.8L1779.8 450.8L1781.3 450.8L1782.8 450.8L1784.3 450.8L1785.8 450.7L1787.3 450.7L1788.8 450.6L1790.3 450.5L1791.8 450.4L1793.3 450.4L1794.8 450.2L1796.3 450.1L1797.8 450.0L1799.3 449.9L1800.8 449.7L1802.3 449.6L1803.8 449.4L1805.3 449.3L1806.8 449.1L1808.2 448.9L1809.7 448.8L1811.2 448.6L1812.7 448.5L1814.2 448.3L1815.7 448.2L1817.2 448.1L1818.7 447.9L1820.2 447.8L1821.7 447.7L1823.2 447.6L1824.7 447.5L1826.2 447.4L1827.7 447.3L1829.2 447.3L1830.7 447.2L1832.2 447.2L1833.7 447.2L1835.2 447.2L1836.7 447.2L1838.2 447.2L1839.7 447.3L1841.2 447.3L1842.7 447.4L1844.2 447.5L1845.7 447.6L1847.2 447.7L1848.7 447.8L1850.2 447.9L1851.7 448.0L1853.2 448.2L1854.7 448.3L1856.2 448.5L1857.7 448.6L1859.1 448.8L1860.6 448.9L1862.1 449.1L1863.6 449.2L1865.1 449.4L1866.6 449.5L1868.1 449.7L1869.6 449.8L1871.1 450.0L1872.6 450.1L1874.1 450.2L1875.6 450.3L1877.1 450.4L1878.6 450.5L1880.1 450.6L1881.6 450.7L1883.1 450.7L1884.6 450.8L1886.1 450.8L1887.6 450.8L1889.1 450.8L1890.6 450.8L1892.1 450.8L1893.6 450.7L1895.1 450.7L1896.6 450.6L1898.1 450.5L1899.6 450.4L1901.1 450.3L1902.6 450.2L1904.1 450.1L1905.6 449.9L1907.0 449.8L1908.5 449.7L1910.0 449.5L1911.5 449.4L1913.0 449.2L1914.5 449.0L1916.0 448.9L1917.5 448.7" fill="none" stroke="#ff0000" stroke-width="6.3" stroke-linejoin="round"/>
<g class="legend">
<rect x="1483" y="59" width="394" height="151" fill="#262626"/>
<rect x="1486.5" y="62" width="387.5" height="145" fill="#fff"/>
<line x1="1500" y1="100.5" x2="1653" y2="100.5" stroke="#0072bd" stroke-width="11.0" stroke-dasharray="31.2 29.65"/>
<line x1="1500" y1="168" x2="1653" y2="168" stroke="#ff0000" stroke-width="6"/>
<text class="leg" x="1661.8" y="120.3">Normal</text>
<text class="leg" x="1662.3" y="187.8">Laguerre</text>
</g>
<g class="ticklabels">
<text class="tk" text-anchor="middle" x="211.5" y="527.9">0</text>
<text class="tk" text-anchor="middle" x="552.5" y="527.9">100</text>
<text class="tk" text-anchor="middle" x="893.5" y="527.9">200</text>
<text class="tk" text-anchor="middle" x="1234.5" y="527.9">300</text>
<text class="tk" text-anchor="middle" x="1575.5" y="527.9">400</text>
<text class="tk" text-anchor="middle" x="1916.5" y="527.9">500</text>
<text class="tk" text-anchor="end" x="189" y="467.8">0</text>
<text class="tk" text-anchor="end" x="189" y="277.8">0.5</text>
<text class="tk" text-anchor="end" x="189" y="87.8">1</text>
</g>
<text class="lab" text-anchor="middle" transform="translate(81.8 247.8) rotate(-90)"><tspan class="it">u</tspan>/m·s<tspan class="sup" dy="-30.4">−1</tspan></text>
</g>
<g id="axes2">
<g class="grid">
<rect x="551" y="597" width="4" height="406.3" fill="rgba(38,38,38,0.15)"/>
<rect x="892" y="597" width="4" height="406.3" fill="rgba(38,38,38,0.15)"/>
<rect x="1233" y="597" width="4" height="406.3" fill="rgba(38,38,38,0.15)"/>
<rect x="1574" y="597" width="4" height="406.3" fill="rgba(38,38,38,0.15)"/>
<rect x="214" y="995" width="1702" height="3" fill="rgba(38,38,38,0.15)"/>
<rect x="214" y="794" width="1702" height="4" fill="rgba(38,38,38,0.15)"/>
</g>
<g class="box">
<rect x="210" y="594" width="4" height="413" fill="#262626"/>
<rect x="1916" y="594" width="3" height="413" fill="#262626"/>
<rect x="210" y="594" width="1709" height="3" fill="#262626"/>
<rect x="210" y="1003.3" width="1709" height="3.7" fill="#262626"/>
<rect x="551" y="986.3" width="4" height="17" fill="#262626"/>
<rect x="551" y="597" width="4" height="17" fill="#262626"/>
<rect x="892" y="986.3" width="4" height="17" fill="#262626"/>
<rect x="892" y="597" width="4" height="17" fill="#262626"/>
<rect x="1233" y="986.3" width="4" height="17" fill="#262626"/>
<rect x="1233" y="597" width="4" height="17" fill="#262626"/>
<rect x="1574" y="986.3" width="4" height="17" fill="#262626"/>
<rect x="1574" y="597" width="4" height="17" fill="#262626"/>
<rect x="214" y="995" width="17" height="3" fill="#262626"/>
<rect x="1898" y="995" width="18" height="3" fill="#262626"/>
<rect x="214" y="794" width="17" height="4" fill="#262626"/>
<rect x="1898" y="794" width="18" height="4" fill="#262626"/>
</g>
<path class="normal" d="M212.5 997.0L212.8 995.5L213.2 994.1L213.5 992.6L213.8 991.1L214.1 989.7L214.3 988.2L214.6 986.7L214.9 985.2L215.1 983.8L215.4 982.3L215.6 980.8L215.8 979.3L216.1 977.8L216.3 976.3L216.5 974.9L216.7 973.4L216.9 971.9L217.1 970.4L217.2 968.9L217.4 967.4L217.5 966.2M220.6 936.7L220.6 936.1L220.8 934.6L220.9 933.1L221.1 931.6L221.2 930.1L221.3 928.6L221.5 927.1L221.6 925.6L221.7 924.1L221.9 922.6L222.0 921.1L222.1 919.6L222.3 918.1L222.4 916.6L222.5 915.2L222.7 913.7L222.8 912.2L222.9 910.7L223.1 909.2L223.2 907.7L223.3 906.2L223.4 905.7M225.9 876.1L226.0 874.8L226.1 873.3L226.2 871.8L226.4 870.3L226.5 868.8L226.6 867.3L226.7 865.8L226.9 864.3L227.0 862.8L227.1 861.3L227.3 859.9L227.4 858.4L227.5 856.9L227.7 855.4L227.8 853.9L228.0 852.4L228.1 850.9L228.2 849.4L228.4 847.9L228.5 846.4L228.6 845.0M231.1 815.5L231.1 815.0L231.2 813.5L231.3 812.0L231.4 810.5L231.5 809.0L231.6 807.5L231.7 806.0L231.8 804.5L231.9 803.0L232.0 801.5L232.1 800.0L232.2 798.6L232.3 797.1L232.4 795.6L232.5 794.1L232.6 792.6L232.8 791.1L232.9 789.6L233.0 788.1L233.1 786.6L233.2 785.1L233.3 784.4M236.2 754.9L236.3 753.7L236.5 752.2L236.6 750.7L236.8 749.2L236.9 747.8L237.1 746.3L237.3 744.8L237.4 743.3L237.6 741.8L237.7 740.3L237.9 738.8L238.1 737.3L238.2 735.8L238.4 734.3L238.5 732.9L238.7 731.4L238.8 729.9L239.0 728.4L239.1 726.9L239.2 725.4L239.4 724.0L239.4 723.8M242.4 694.3L242.5 694.0L242.7 692.5L242.8 691.0L243.0 689.5L243.2 688.0L243.5 686.4L243.7 684.9L243.9 683.4L244.1 681.9L244.3 680.4L244.5 678.9L244.8 677.4L245.0 675.9L245.2 674.4L245.5 673.0L245.7 671.5L246.0 670.0L246.2 668.6L246.5 667.2L246.8 665.8L247.0 664.4L247.2 663.5M261.0 659.0L261.3 660.2L261.7 661.6L262.1 663.1L262.4 664.5L262.7 665.9L263.1 667.4L263.4 668.8L263.7 670.3L264.0 671.8L264.3 673.2L264.6 674.7L264.9 676.2L265.2 677.7L265.5 679.2L265.8 680.7L266.1 682.2L266.3 683.7L266.6 685.2L266.9 686.7L267.1 688.2L267.4 689.5M272.7 718.7L272.8 719.2L273.1 720.7L273.3 722.2L273.6 723.6L273.9 725.1L274.2 726.6L274.5 728.0L274.8 729.5L275.1 731.0L275.4 732.4L275.7 733.9L276.0 735.3L276.4 736.8L276.7 738.3L277.0 739.7L277.3 741.2L277.7 742.7L278.0 744.1L278.3 745.6L278.6 747.1L279.0 748.5L279.1 749.2M285.6 778.1L285.9 779.3L286.2 780.7L286.5 782.2L286.9 783.7L287.2 785.1L287.5 786.6L287.8 788.1L288.2 789.5L288.5 791.0L288.8 792.5L289.1 793.9L289.5 795.4L289.8 796.8L290.2 798.3L290.5 799.8L290.8 801.2L291.2 802.7L291.5 804.1L291.9 805.6L292.2 807.1L292.6 808.5L292.6 808.5M300.3 837.2L300.4 837.5L300.8 838.9L301.3 840.4L301.7 841.8L302.2 843.2L302.7 844.6L303.1 846.1L303.6 847.5L304.1 848.9L304.6 850.3L305.1 851.7L305.6 853.1L306.1 854.6L306.7 856.0L307.2 857.4L307.7 858.8L308.3 860.2L308.8 861.6L309.4 862.9L310.0 864.3L310.6 865.7L310.9 866.5M323.5 893.3L324.0 894.2L324.6 895.6L325.3 896.9L326.0 898.2L326.7 899.6L327.3 900.9L328.0 902.3L328.7 903.6L329.4 904.9L330.1 906.2L330.8 907.6L331.5 908.9L332.2 910.2L332.9 911.6L333.6 912.9L334.3 914.2L335.0 915.5L335.8 916.8L336.5 918.1L337.2 919.5L337.9 920.8L338.0 920.9M353.9 946.0L354.0 946.1L354.9 947.3L355.8 948.5L356.7 949.7L357.6 950.9L358.6 952.0L359.5 953.2L360.5 954.4L361.5 955.5L362.4 956.6L363.4 957.8L364.4 958.9L365.5 960.0L366.5 961.1L367.5 962.2L368.6 963.3L369.6 964.3L370.7 965.4L371.8 966.5L372.8 967.5L373.9 968.5L374.7 969.2M400.3 983.5L401.2 983.7L402.7 984.0L404.2 984.3L405.7 984.5L407.2 984.7L408.7 984.8L410.2 984.9L411.7 984.9L413.2 984.8L414.7 984.7L416.2 984.6L417.7 984.4L419.2 984.2L420.6 983.9L422.1 983.6L423.6 983.3L425.0 982.9L426.5 982.6L428.0 982.3L429.5 982.1L430.9 981.8L431.1 981.8M460.0 986.1L460.3 986.2L461.7 986.7L463.1 987.3L464.5 987.9L465.9 988.5L467.2 989.1L468.6 989.7L470.0 990.3L471.3 991.0L472.7 991.6L474.0 992.3L475.3 993.0L476.7 993.6L478.0 994.4L479.3 995.1L480.6 995.8L481.9 996.5L483.2 997.2L484.6 997.9L485.9 998.6L487.3 999.3L488.1 999.6M515.2 997.2L516.2 996.8L517.6 996.3L519.1 995.8L520.5 995.3L521.9 994.8L523.3 994.2L524.6 993.6L526.0 993.0L527.4 992.5L528.8 991.9L530.2 991.3L531.6 990.8L533.0 990.3L534.4 989.8L535.9 989.4L537.3 989.1L538.8 988.7L540.3 988.5L541.8 988.3L543.3 988.1L544.8 988.0L544.9 988.0M572.9 995.8L573.4 996.0L574.8 996.7L576.1 997.3L577.5 997.9L578.9 998.5L580.3 999.1L581.6 999.7L583.0 1000.2L584.4 1000.8L585.9 1001.3L587.3 1001.7L588.7 1002.2L590.2 1002.5L591.6 1002.9L593.1 1003.2L594.6 1003.4L596.1 1003.6L597.6 1003.7L599.1 1003.8L600.6 1003.8L602.1 1003.7L602.6 1003.7M630.5 994.2L631.8 993.6L633.1 993.0L634.5 992.4L635.9 991.9L637.3 991.3L638.7 990.8L640.1 990.3L641.6 989.9L643.0 989.5L644.5 989.1L645.9 988.8L647.4 988.5L648.9 988.3L650.4 988.1L651.9 988.0L653.4 988.0L654.9 988.0L656.4 988.1L657.9 988.3L659.4 988.5L660.7 988.7M688.2 999.4L688.8 999.6L690.2 1000.2L691.6 1000.7L693.0 1001.2L694.4 1001.7L695.9 1002.1L697.3 1002.5L698.8 1002.8L700.3 1003.1L701.7 1003.4L703.2 1003.6L704.7 1003.7L706.2 1003.8L707.7 1003.8L709.2 1003.7L710.7 1003.6L712.2 1003.5L713.7 1003.2L715.2 1003.0L716.7 1002.6L718.1 1002.2L718.6 1002.1M745.8 990.9L745.9 990.9L747.3 990.4L748.7 989.9L750.2 989.5L751.6 989.1L753.1 988.8L754.6 988.5L756.1 988.3L757.5 988.1L759.0 988.0L760.6 988.0L762.1 988.0L763.6 988.1L765.1 988.2L766.5 988.4L768.0 988.7L769.5 989.0L771.0 989.3L772.4 989.7L773.8 990.2L775.3 990.7L776.3 991.0M803.5 1002.2L804.5 1002.5L805.9 1002.8L807.4 1003.1L808.9 1003.4L810.4 1003.6L811.9 1003.7L813.4 1003.8L814.9 1003.8L816.4 1003.7L817.9 1003.6L819.4 1003.5L820.9 1003.3L822.3 1003.0L823.8 1002.7L825.3 1002.3L826.7 1001.9L828.1 1001.4L829.6 1000.9L831.0 1000.4L832.4 999.9L833.8 999.3L833.9 999.2M861.2 988.7L861.7 988.6L863.2 988.3L864.7 988.2L866.2 988.1L867.7 988.0L869.2 988.0L870.7 988.1L872.2 988.2L873.7 988.4L875.2 988.7L876.6 989.0L878.1 989.3L879.6 989.7L881.0 990.1L882.4 990.6L883.8 991.1L885.2 991.6L886.6 992.2L888.0 992.8L889.4 993.4L890.8 994.0L891.3 994.2M918.8 1003.7L919.0 1003.7L920.5 1003.8L922.0 1003.8L923.5 1003.8L925.0 1003.7L926.5 1003.5L928.0 1003.3L929.5 1003.0L930.9 1002.7L932.4 1002.3L933.8 1001.9L935.3 1001.5L936.7 1001.0L938.1 1000.4L939.5 999.9L940.9 999.3L942.3 998.7L943.6 998.1L945.0 997.5L946.4 996.9L947.7 996.3L948.6 995.9M976.5 988.0L977.8 988.1L979.3 988.2L980.8 988.4L982.3 988.6L983.8 988.9L985.2 989.3L986.7 989.7L988.1 990.1L989.6 990.6L991.0 991.1L992.4 991.6L993.8 992.2L995.2 992.7L996.5 993.3L997.9 993.9L999.3 994.6L1000.6 995.2L1002.0 995.8L1003.4 996.4L1004.7 997.1L1005.9 997.6M1034.1 1003.4L1035.1 1003.3L1036.6 1003.0L1038.1 1002.7L1039.5 1002.3L1041.0 1001.9L1042.4 1001.5L1043.8 1001.0L1045.2 1000.5L1046.6 999.9L1048.0 999.4L1049.4 998.8L1050.8 998.2L1052.2 997.6L1053.5 997.0L1054.9 996.3L1056.3 995.7L1057.6 995.1L1059.0 994.5L1060.3 993.8L1061.7 993.2L1063.1 992.6L1063.3 992.6M1091.8 989.1L1092.4 989.3L1093.8 989.6L1095.3 990.1L1096.7 990.5L1098.1 991.0L1099.5 991.6L1100.9 992.1L1102.3 992.7L1103.7 993.3L1105.1 993.9L1106.4 994.5L1107.8 995.1L1109.1 995.8L1110.5 996.4L1111.9 997.0L1113.2 997.6L1114.6 998.2L1116.0 998.8L1117.4 999.4L1118.8 1000.0L1120.2 1000.5L1120.7 1000.7M1149.5 1001.6L1149.6 1001.5L1151.0 1001.1L1152.4 1000.5L1153.8 1000.0L1155.2 999.4L1156.6 998.8L1157.9 998.2L1159.3 997.6L1160.7 997.0L1162.0 996.4L1163.4 995.8L1164.8 995.1L1166.1 994.5L1167.5 993.9L1168.9 993.3L1170.2 992.7L1171.6 992.1L1173.0 991.6L1174.4 991.0L1175.8 990.5L1177.3 990.1L1178.3 989.8M1207.1 991.7L1208.1 992.1L1209.4 992.6L1210.8 993.2L1212.2 993.8L1213.6 994.4L1214.9 995.1L1216.3 995.7L1217.6 996.3L1219.0 997.0L1220.4 997.6L1221.7 998.2L1223.1 998.8L1224.5 999.4L1225.9 999.9L1227.3 1000.5L1228.7 1001.0L1230.1 1001.5L1231.6 1001.9L1233.0 1002.3L1234.5 1002.7L1235.9 1003.0L1236.1 1003.1M1264.8 998.4L1265.1 998.3L1266.5 997.7L1267.8 997.1L1269.2 996.4L1270.5 995.8L1271.9 995.2L1273.3 994.6L1274.6 993.9L1276.0 993.3L1277.4 992.7L1278.8 992.2L1280.2 991.6L1281.6 991.1L1283.0 990.6L1284.4 990.1L1285.9 989.7L1287.3 989.3L1288.8 988.9L1290.2 988.6L1291.7 988.4L1293.2 988.2L1294.1 988.1M1322.4 995.2L1323.4 995.6L1324.8 996.3L1326.2 996.9L1327.5 997.5L1328.9 998.1L1330.3 998.7L1331.6 999.3L1333.0 999.9L1334.4 1000.4L1335.8 1001.0L1337.3 1001.4L1338.7 1001.9L1340.1 1002.3L1341.6 1002.7L1343.1 1003.0L1344.5 1003.3L1346.0 1003.5L1347.5 1003.7L1349.0 1003.8L1350.5 1003.8L1352.0 1003.8L1352.1 1003.8M1380.1 994.8L1380.4 994.6L1381.8 994.0L1383.1 993.4L1384.5 992.8L1385.9 992.2L1387.3 991.7L1388.7 991.1L1390.1 990.6L1391.5 990.1L1393.0 989.7L1394.4 989.3L1395.9 989.0L1397.4 988.7L1398.9 988.4L1400.4 988.2L1401.8 988.1L1403.3 988.0L1404.9 988.0L1406.4 988.1L1407.9 988.2L1409.4 988.3L1410.1 988.5M1437.8 998.8L1438.8 999.3L1440.2 999.8L1441.6 1000.4L1443.0 1000.9L1444.4 1001.4L1445.8 1001.9L1447.3 1002.3L1448.7 1002.6L1450.2 1003.0L1451.7 1003.3L1453.2 1003.5L1454.7 1003.6L1456.2 1003.7L1457.7 1003.8L1459.2 1003.8L1460.7 1003.7L1462.2 1003.6L1463.7 1003.4L1465.1 1003.1L1466.6 1002.8L1468.1 1002.5L1468.1 1002.5M1495.4 991.3L1495.9 991.2L1497.3 990.7L1498.7 990.2L1500.1 989.7L1501.6 989.3L1503.0 989.0L1504.5 988.7L1506.0 988.4L1507.5 988.2L1509.0 988.1L1510.5 988.0L1512.0 988.0L1513.5 988.0L1515.0 988.1L1516.5 988.3L1518.0 988.5L1519.4 988.8L1520.9 989.1L1522.4 989.5L1523.8 989.9L1525.3 990.4L1525.9 990.6M1553.1 1001.9L1554.4 1002.2L1555.9 1002.6L1557.3 1002.9L1558.8 1003.2L1560.3 1003.5L1561.8 1003.6L1563.3 1003.7L1564.8 1003.8L1566.3 1003.8L1567.8 1003.7L1569.3 1003.6L1570.8 1003.4L1572.3 1003.1L1573.8 1002.9L1575.2 1002.5L1576.7 1002.1L1578.1 1001.7L1579.5 1001.2L1581.0 1000.7L1582.4 1000.2L1583.5 999.7M1610.7 988.9L1611.6 988.7L1613.1 988.5L1614.6 988.3L1616.1 988.1L1617.6 988.0L1619.1 988.0L1620.6 988.0L1622.1 988.1L1623.6 988.3L1625.1 988.5L1626.6 988.8L1628.1 989.1L1629.5 989.5L1631.0 989.9L1632.4 990.3L1633.8 990.8L1635.2 991.3L1636.6 991.9L1638.0 992.4L1639.4 993.0L1640.8 993.6L1641.0 993.7M1668.4 1003.6L1668.9 1003.6L1670.4 1003.7L1671.9 1003.8L1673.4 1003.8L1674.9 1003.7L1676.4 1003.6L1677.9 1003.4L1679.4 1003.2L1680.9 1002.9L1682.4 1002.5L1683.8 1002.2L1685.2 1001.7L1686.7 1001.3L1688.1 1000.8L1689.5 1000.2L1690.9 999.7L1692.3 999.1L1693.7 998.5L1695.0 997.9L1696.4 997.3L1697.8 996.7L1698.3 996.4M1726.1 988.0L1726.3 988.0L1727.8 988.0L1729.3 988.1L1730.8 988.3L1732.2 988.5L1733.7 988.8L1735.2 989.1L1736.6 989.4L1738.1 989.8L1739.5 990.3L1741.0 990.8L1742.4 991.3L1743.8 991.8L1745.2 992.4L1746.5 993.0L1747.9 993.6L1749.3 994.2L1750.7 994.8L1752.0 995.4L1753.4 996.1L1754.7 996.7L1755.6 997.1M1783.7 1003.6L1785.1 1003.4L1786.5 1003.2L1788.0 1002.9L1789.5 1002.6L1790.9 1002.2L1792.4 1001.8L1793.8 1001.3L1795.2 1000.8L1796.6 1000.3L1798.0 999.7L1799.4 999.2L1800.8 998.6L1802.2 998.0L1803.5 997.3L1804.9 996.7L1806.3 996.1L1807.6 995.5L1809.0 994.8L1810.4 994.2L1811.7 993.6L1812.9 993.1M1841.4 988.8L1842.3 989.0L1843.8 989.4L1845.2 989.8L1846.7 990.2L1848.1 990.7L1849.5 991.2L1850.9 991.8L1852.3 992.3L1853.7 992.9L1855.1 993.5L1856.4 994.1L1857.8 994.7L1859.2 995.4L1860.5 996.0L1861.9 996.6L1863.2 997.3L1864.6 997.9L1866.0 998.5L1867.4 999.1L1868.7 999.7L1870.1 1000.2L1870.3 1000.3M1899.0 1001.9L1899.5 1001.8L1901.0 1001.3L1902.4 1000.8L1903.8 1000.3L1905.2 999.8L1906.6 999.2L1907.9 998.6L1909.3 998.0L1910.7 997.4L1912.0 996.8L1913.4 996.1L1914.8 995.5L1916.1 994.9L1917.5 994.3" fill="none" stroke="#0072bd" stroke-width="11.0" stroke-linejoin="round"/>
<path class="laguerre" d="M212.5 997.0L212.8 995.5L213.2 994.1L213.5 992.6L213.8 991.1L214.1 989.7L214.4 988.2L214.6 986.7L214.9 985.2L215.2 983.8L215.4 982.3L215.6 980.8L215.9 979.3L216.1 977.8L216.3 976.4L216.5 974.9L216.7 973.4L216.9 971.9L217.1 970.4L217.3 968.9L217.5 967.4L217.7 965.9L217.9 964.5L218.1 963.0L218.2 961.5L218.4 960.0L218.6 958.5L218.8 957.0L218.9 955.5L219.1 954.0L219.3 952.5L219.4 951.0L219.6 949.5L219.7 948.0L219.9 946.6L220.1 945.1L220.2 943.6L220.4 942.1L220.5 940.6L220.7 939.1L220.8 937.6L221.0 936.1L221.1 934.6L221.3 933.1L221.4 931.6L221.6 930.1L221.7 928.6L221.9 927.2L222.0 925.7L222.2 924.2L222.3 922.7L222.5 921.2L222.6 919.7L222.8 918.2L222.9 916.7L223.0 915.2L223.2 913.7L223.3 912.2L223.5 910.7L223.6 909.2L223.8 907.7L223.9 906.3L224.1 904.8L224.2 903.3L224.3 901.8L224.5 900.3L224.6 898.8L224.8 897.3L224.9 895.8L225.1 894.3L225.2 892.8L225.3 891.3L225.5 889.8L225.6 888.3L225.8 886.8L225.9 885.4L226.1 883.9L226.2 882.4L226.3 880.9L226.5 879.4L226.6 877.9L226.8 876.4L226.9 874.9L227.0 873.4L227.2 871.9L227.3 870.4L227.4 868.9L227.6 867.4L227.7 865.9L227.9 864.4L228.0 862.9L228.1 861.5L228.3 860.0L228.4 858.5L228.5 857.0L228.7 855.5L228.8 854.0L228.9 852.5L229.1 851.0L229.2 849.5L229.3 848.0L229.5 846.5L229.6 845.0L229.7 843.5L229.9 842.0L230.0 840.5L230.1 839.0L230.3 837.6L230.4 836.1L230.5 834.6L230.7 833.1L230.8 831.6L231.0 830.1L231.1 828.6L231.3 827.1L231.4 825.6L231.6 824.1L231.7 822.6L231.9 821.1L232.1 819.6L232.2 818.1L232.4 816.7L232.6 815.2L232.8 813.7L232.9 812.2L233.1 810.7L233.3 809.2L233.5 807.7L233.7 806.2L233.9 804.7L234.1 803.2L234.3 801.8L234.4 800.3L234.6 798.8L234.8 797.3L235.0 795.8L235.2 794.3L235.4 792.9L235.6 791.4L235.8 789.9L235.9 788.4L236.1 786.9L236.3 785.4L236.5 784.0L236.7 782.5L236.9 781.0L237.1 779.5L237.3 778.0L237.5 776.6L237.7 775.1L237.9 773.6L238.1 772.1L238.4 770.6L238.6 769.1L238.8 767.6L239.1 766.1L239.3 764.7L239.6 763.2L239.8 761.7L240.1 760.2L240.4 758.7L240.7 757.2L241.0 755.7L241.3 754.2L241.6 752.7L241.9 751.2L242.2 749.7L242.6 748.2L242.9 746.7L243.2 745.3L243.6 743.8L243.9 742.3L244.3 740.9L244.6 739.5L245.0 738.0L245.3 736.6L245.7 735.2L246.0 733.8L246.4 732.4L246.8 731.1L247.1 729.7L247.5 728.3L247.9 727.0L248.4 725.6L248.8 724.2L249.4 722.8L249.9 721.4L250.5 720.0L251.2 718.5L251.9 717.0L252.7 715.5L253.6 714.0L254.6 712.4L255.6 711.0L256.6 709.8L257.7 708.9L258.8 708.2L259.9 708.0L261.0 708.2L262.1 708.8L263.2 709.8L264.2 711.0L265.2 712.4L266.2 713.9L267.1 715.5L268.0 717.1L268.8 718.7L269.5 720.2L270.2 721.7L270.8 723.1L271.4 724.5L271.9 725.9L272.4 727.2L272.9 728.6L273.4 729.9L273.8 731.2L274.3 732.6L274.7 733.9L275.1 735.2L275.6 736.6L276.0 737.9L276.5 739.3L276.9 740.7L277.4 742.1L277.8 743.5L278.3 744.9L278.7 746.3L279.2 747.7L279.7 749.1L280.2 750.6L280.6 752.0L281.1 753.5L281.6 754.9L282.1 756.4L282.6 757.8L283.0 759.3L283.5 760.7L284.0 762.2L284.5 763.6L285.0 765.1L285.4 766.5L285.9 768.0L286.4 769.4L286.9 770.9L287.3 772.3L287.8 773.7L288.3 775.2L288.7 776.6L289.2 778.0L289.7 779.4L290.1 780.9L290.6 782.3L291.1 783.7L291.5 785.1L292.0 786.6L292.4 788.0L292.9 789.4L293.3 790.8L293.8 792.2L294.2 793.7L294.6 795.1L295.1 796.5L295.5 797.9L296.0 799.4L296.4 800.8L296.8 802.2L297.3 803.7L297.7 805.1L298.1 806.5L298.6 808.0L299.0 809.4L299.4 810.9L299.8 812.3L300.3 813.7L300.7 815.2L301.1 816.6L301.6 818.0L302.0 819.5L302.4 820.9L302.9 822.4L303.3 823.8L303.8 825.2L304.2 826.7L304.6 828.1L305.1 829.5L305.5 831.0L306.0 832.4L306.5 833.8L306.9 835.3L307.4 836.7L307.8 838.1L308.3 839.5L308.8 841.0L309.3 842.4L309.7 843.8L310.2 845.2L310.7 846.6L311.2 848.1L311.7 849.5L312.2 850.9L312.7 852.3L313.2 853.7L313.7 855.1L314.2 856.5L314.7 857.9L315.2 859.4L315.8 860.8L316.3 862.2L316.8 863.6L317.4 865.0L317.9 866.4L318.4 867.8L319.0 869.2L319.5 870.6L320.1 872.0L320.6 873.4L321.2 874.7L321.7 876.1L322.3 877.5L322.9 878.9L323.4 880.3L324.0 881.7L324.6 883.1L325.1 884.5L325.7 885.9L326.3 887.2L326.9 888.6L327.5 890.0L328.0 891.4L328.6 892.8L329.2 894.2L329.8 895.5L330.4 896.9L331.0 898.3L331.6 899.7L332.2 901.0L332.8 902.4L333.4 903.8L334.0 905.2L334.6 906.5L335.3 907.9L335.9 909.2L336.5 910.6L337.2 912.0L337.8 913.3L338.5 914.7L339.1 916.0L339.8 917.4L340.5 918.7L341.2 920.0L341.9 921.4L342.6 922.7L343.3 924.0L344.0 925.3L344.7 926.6L345.5 927.9L346.2 929.2L347.0 930.5L347.8 931.8L348.5 933.1L349.3 934.4L350.1 935.7L350.9 936.9L351.7 938.2L352.6 939.4L353.4 940.7L354.2 941.9L355.1 943.2L356.0 944.4L356.9 945.6L357.8 946.8L358.7 948.0L359.6 949.2L360.5 950.4L361.4 951.5L362.4 952.7L363.4 953.8L364.4 955.0L365.4 956.1L366.4 957.2L367.4 958.3L368.5 959.4L369.5 960.4L370.6 961.5L371.7 962.5L372.8 963.5L373.9 964.5L375.1 965.5L376.2 966.5L377.4 967.4L378.6 968.3L379.8 969.2L381.1 970.0L382.3 970.9L383.6 971.6L384.9 972.4L386.2 973.1L387.6 973.8L388.9 974.5L390.3 975.1L391.7 975.7L393.1 976.2L394.5 976.7L396.0 977.1L397.4 977.5L398.9 977.9L400.4 978.2L401.8 978.5L403.3 978.7L404.8 978.8L406.3 978.9L407.8 979.0L409.3 979.0L410.8 979.0L412.3 978.9L413.8 978.8L415.4 978.7L416.8 978.5L418.3 978.3L419.8 978.0L421.3 977.8L422.8 977.6L424.3 977.3L425.8 977.1L427.3 976.9L428.7 976.8L430.2 976.7L431.7 976.7L433.2 976.7L434.7 976.8L436.2 977.0L437.7 977.2L439.2 977.4L440.7 977.8L442.1 978.1L443.6 978.5L445.1 978.9L446.5 979.4L447.9 979.8L449.3 980.4L450.7 980.9L452.1 981.4L453.5 982.0L454.9 982.6L456.3 983.2L457.6 983.9L459.0 984.5L460.3 985.1L461.7 985.8L463.0 986.4L464.4 987.1L465.7 987.8L467.1 988.4L468.4 989.1L469.8 989.8L471.1 990.5L472.4 991.1L473.8 991.8L475.1 992.5L476.5 993.1L477.8 993.8L479.2 994.5L480.5 995.1L481.9 995.7L483.2 996.4L484.6 996.9L486.0 997.5L487.4 998.0L488.9 998.5L490.3 999.0L491.7 999.4L493.2 999.7L494.7 1000.0L496.2 1000.1L497.7 1000.2L499.2 1000.2L500.7 1000.2L502.2 1000.0L503.7 999.8L505.2 999.6L506.6 999.3L508.1 999.0L509.6 998.6L511.0 998.3L512.5 997.9L513.9 997.6L515.4 997.3L516.9 996.9L518.3 996.6L519.8 996.2L521.2 995.8L522.7 995.4L524.1 994.9L525.5 994.4L526.9 993.8L528.2 993.2L529.6 992.6L531.0 992.0L532.4 991.5L533.8 991.0L535.2 990.5L536.7 990.1L538.1 989.7L539.6 989.3L541.1 989.1L542.6 988.8L544.1 988.6L545.6 988.5L547.1 988.4L548.6 988.4L550.1 988.5L551.6 988.5L553.1 988.7L554.6 988.9L556.0 989.1L557.5 989.4L559.0 989.8L560.4 990.2L561.9 990.6L563.3 991.1L564.7 991.6L566.1 992.1L567.5 992.6L568.9 993.2L570.3 993.8L571.7 994.4L573.0 995.0L574.4 995.6L575.8 996.2L577.2 996.8L578.5 997.4L579.9 997.9L581.3 998.5L582.7 999.1L584.1 999.6L585.5 1000.2L586.9 1000.7L588.3 1001.1L589.8 1001.6L591.2 1002.0L592.7 1002.3L594.2 1002.6L595.6 1002.9L597.1 1003.1L598.6 1003.2L600.1 1003.3L601.6 1003.4L603.1 1003.4L604.6 1003.3L606.1 1003.2L607.6 1003.0L609.1 1002.8L610.6 1002.5L612.1 1002.1L613.5 1001.8L615.0 1001.3L616.4 1000.9L617.8 1000.4L619.2 999.9L620.6 999.4L622.0 998.8L623.4 998.2L624.8 997.7L626.2 997.1L627.5 996.5L628.9 995.9L630.3 995.3L631.7 994.7L633.0 994.1L634.4 993.5L635.8 992.9L637.2 992.4L638.6 991.8L640.0 991.3L641.4 990.8L642.9 990.4L644.3 990.0L645.8 989.6L647.2 989.3L648.7 989.0L650.2 988.8L651.7 988.6L653.2 988.5L654.7 988.4L656.2 988.4L657.7 988.5L659.2 988.6L660.7 988.7L662.2 988.9L663.7 989.2L665.1 989.5L666.6 989.9L668.0 990.3L669.5 990.7L670.9 991.2L672.3 991.7L673.7 992.2L675.1 992.8L676.5 993.3L677.9 993.9L679.3 994.5L680.7 995.1L682.0 995.7L683.4 996.3L684.8 996.9L686.2 997.5L687.5 998.1L688.9 998.7L690.3 999.2L691.7 999.8L693.1 1000.3L694.5 1000.8L696.0 1001.2L697.4 1001.7L698.9 1002.0L700.3 1002.4L701.8 1002.7L703.3 1002.9L704.8 1003.1L706.3 1003.3L707.8 1003.4L709.3 1003.4L710.8 1003.4L712.3 1003.3L713.8 1003.1L715.3 1002.9L716.8 1002.7L718.2 1002.4L719.7 1002.1L721.1 1001.7L722.6 1001.2L724.0 1000.8L725.4 1000.3L726.8 999.8L728.2 999.2L729.6 998.7L731.0 998.1L732.4 997.5L733.8 996.9L735.1 996.3L736.5 995.7L737.9 995.1L739.3 994.5L740.7 993.9L742.0 993.3L743.4 992.8L744.8 992.2L746.2 991.7L747.6 991.2L749.1 990.7L750.5 990.3L752.0 989.9L753.4 989.5L754.9 989.2L756.4 988.9L757.8 988.7L759.3 988.6L760.8 988.5L762.3 988.4L763.8 988.4L765.4 988.5L766.9 988.6L768.3 988.8L769.8 989.0L771.3 989.3L772.8 989.6L774.2 990.0L775.7 990.4L777.1 990.8L778.5 991.3L779.9 991.8L781.3 992.4L782.7 992.9L784.1 993.5L785.5 994.1L786.9 994.7L788.3 995.3L789.6 995.9L791.0 996.5L792.4 997.1L793.8 997.7L795.1 998.2L796.5 998.8L797.9 999.4L799.3 999.9L800.7 1000.4L802.2 1000.9L803.6 1001.3L805.0 1001.8L806.5 1002.1L808.0 1002.5L809.4 1002.8L810.9 1003.0L812.4 1003.2L813.9 1003.3L815.4 1003.4L816.9 1003.4L818.4 1003.4L819.9 1003.3L821.4 1003.1L822.9 1002.9L824.4 1002.6L825.9 1002.3L827.3 1002.0L828.8 1001.6L830.2 1001.1L831.6 1000.7L833.0 1000.2L834.5 999.6L835.9 999.1L837.2 998.5L838.6 997.9L840.0 997.4L841.4 996.8L842.8 996.2L844.1 995.6L845.5 995.0L846.9 994.4L848.3 993.8L849.6 993.2L851.0 992.6L852.4 992.1L853.8 991.6L855.3 991.1L856.7 990.6L858.1 990.2L859.6 989.8L861.0 989.4L862.5 989.1L864.0 988.9L865.5 988.7L867.0 988.5L868.5 988.4L870.0 988.4L871.5 988.4L873.0 988.5L874.5 988.6L876.0 988.8L877.5 989.1L878.9 989.4L880.4 989.7L881.9 990.1L883.3 990.5L884.7 991.0L886.2 991.5L887.6 992.0L889.0 992.5L890.4 993.1L891.7 993.6L893.1 994.2L894.5 994.8L895.9 995.4L897.3 996.0L898.6 996.6L900.0 997.2L901.4 997.8L902.8 998.4L904.2 999.0L905.5 999.5L907.0 1000.0L908.4 1000.5L909.8 1001.0L911.2 1001.5L912.7 1001.9L914.1 1002.2L915.6 1002.5L917.1 1002.8L918.6 1003.0L920.1 1003.2L921.6 1003.3L923.1 1003.4L924.6 1003.4L926.1 1003.3L927.6 1003.2L929.1 1003.0L930.5 1002.8L932.0 1002.5L933.5 1002.2L934.9 1001.9L936.4 1001.5L937.8 1001.0L939.3 1000.5L940.7 1000.0L942.1 999.5L943.5 998.9L944.9 998.4L946.2 997.8L947.6 997.2L949.0 996.6L950.4 996.0L951.7 995.4L953.1 994.8L954.5 994.2L955.9 993.6L957.3 993.1L958.7 992.5L960.1 992.0L961.5 991.4L962.9 991.0L964.3 990.5L965.8 990.1L967.2 989.7L968.7 989.4L970.2 989.1L971.6 988.8L973.1 988.6L974.6 988.5L976.1 988.4L977.6 988.4L979.1 988.4L980.6 988.5L982.1 988.7L983.6 988.9L985.1 989.1L986.6 989.4L988.0 989.8L989.5 990.2L990.9 990.6L992.4 991.1L993.8 991.6L995.2 992.1L996.6 992.6L998.0 993.2L999.4 993.8L1000.7 994.4L1002.1 995.0L1003.5 995.6L1004.9 996.2L1006.2 996.8L1007.6 997.4L1009.0 998.0L1010.4 998.5L1011.8 999.1L1013.2 999.6L1014.6 1000.2L1016.0 1000.7L1017.4 1001.1L1018.9 1001.6L1020.3 1002.0L1021.8 1002.3L1023.2 1002.6L1024.7 1002.9L1026.2 1003.1L1027.7 1003.2L1029.2 1003.3L1030.7 1003.4L1032.2 1003.4L1033.7 1003.3L1035.2 1003.2L1036.7 1003.0L1038.2 1002.8L1039.7 1002.5L1041.1 1002.1L1042.6 1001.8L1044.0 1001.3L1045.5 1000.9L1046.9 1000.4L1048.3 999.9L1049.7 999.4L1051.1 998.8L1052.5 998.2L1053.9 997.7L1055.2 997.1L1056.6 996.5L1058.0 995.9L1059.4 995.3L1060.7 994.7L1062.1 994.1L1063.5 993.5L1064.9 992.9L1066.3 992.4L1067.7 991.8L1069.1 991.3L1070.5 990.8L1072.0 990.4L1073.4 990.0L1074.8 989.6L1076.3 989.3L1077.8 989.0L1079.3 988.8L1080.8 988.6L1082.3 988.5L1083.8 988.4L1085.3 988.4L1086.8 988.5L1088.3 988.6L1089.8 988.7L1091.3 989.0L1092.7 989.2L1094.2 989.5L1095.7 989.9L1097.1 990.3L1098.6 990.7L1100.0 991.2L1101.4 991.7L1102.8 992.2L1104.2 992.8L1105.6 993.4L1107.0 993.9L1108.4 994.5L1109.7 995.1L1111.1 995.7L1112.5 996.3L1113.8 996.9L1115.2 997.5L1116.6 998.1L1118.0 998.7L1119.4 999.2L1120.8 999.8L1122.2 1000.3L1123.6 1000.8L1125.0 1001.2L1126.5 1001.7L1127.9 1002.1L1129.4 1002.4L1130.9 1002.7L1132.4 1002.9L1133.8 1003.1L1135.3 1003.3L1136.8 1003.4L1138.3 1003.4L1139.9 1003.4L1141.4 1003.3L1142.8 1003.1L1144.3 1002.9L1145.8 1002.7L1147.3 1002.4L1148.8 1002.0L1150.2 1001.7L1151.7 1001.2L1153.1 1000.8L1154.5 1000.3L1155.9 999.8L1157.3 999.2L1158.7 998.7L1160.1 998.1L1161.5 997.5L1162.8 996.9L1164.2 996.3L1165.6 995.7L1167.0 995.1L1168.3 994.5L1169.7 993.9L1171.1 993.3L1172.5 992.8L1173.9 992.2L1175.3 991.7L1176.7 991.2L1178.1 990.7L1179.6 990.3L1181.0 989.9L1182.5 989.5L1184.0 989.2L1185.4 988.9L1186.9 988.7L1188.4 988.6L1189.9 988.5L1191.4 988.4L1192.9 988.4L1194.4 988.5L1195.9 988.6L1197.4 988.8L1198.9 989.0L1200.4 989.3L1201.8 989.6L1203.3 990.0L1204.7 990.4L1206.2 990.9L1207.6 991.3L1209.0 991.8L1210.4 992.4L1211.8 992.9L1213.2 993.5L1214.6 994.1L1216.0 994.7L1217.3 995.3L1218.7 995.9L1220.1 996.5L1221.5 997.1L1222.8 997.7L1224.2 998.3L1225.6 998.8L1227.0 999.4L1228.4 999.9L1229.8 1000.4L1231.2 1000.9L1232.7 1001.4L1234.1 1001.8L1235.6 1002.1L1237.0 1002.5L1238.5 1002.8L1240.0 1003.0L1241.5 1003.2L1243.0 1003.3L1244.5 1003.4L1246.0 1003.4L1247.5 1003.4L1249.0 1003.3L1250.5 1003.1L1252.0 1002.9L1253.5 1002.6L1254.9 1002.3L1256.4 1001.9L1257.8 1001.5L1259.3 1001.1L1260.7 1000.6L1262.1 1000.1L1263.5 999.6L1264.9 999.1L1266.3 998.5L1267.7 997.9L1269.1 997.3L1270.5 996.8L1271.8 996.1L1273.2 995.5L1274.6 994.9L1276.0 994.3L1277.3 993.8L1278.7 993.2L1280.1 992.6L1281.5 992.1L1282.9 991.6L1284.3 991.1L1285.8 990.6L1287.2 990.2L1288.7 989.8L1290.1 989.4L1291.6 989.1L1293.1 988.9L1294.6 988.7L1296.1 988.5L1297.6 988.4L1299.1 988.4L1300.6 988.4L1302.1 988.5L1303.6 988.6L1305.1 988.8L1306.5 989.1L1308.0 989.4L1309.5 989.7L1310.9 990.1L1312.4 990.5L1313.8 991.0L1315.2 991.5L1316.6 992.0L1318.0 992.5L1319.4 993.1L1320.8 993.6L1322.2 994.2L1323.6 994.8L1325.0 995.4L1326.3 996.0L1327.7 996.6L1329.1 997.2L1330.5 997.8L1331.8 998.4L1333.2 999.0L1334.6 999.5L1336.0 1000.0L1337.4 1000.5L1338.9 1001.0L1340.3 1001.5L1341.7 1001.9L1343.2 1002.2L1344.7 1002.6L1346.2 1002.8L1347.6 1003.1L1349.1 1003.2L1350.6 1003.3L1352.1 1003.4L1353.6 1003.4L1355.1 1003.3L1356.6 1003.2L1358.1 1003.0L1359.6 1002.8L1361.1 1002.5L1362.6 1002.2L1364.0 1001.9L1365.5 1001.4L1366.9 1001.0L1368.3 1000.5L1369.7 1000.0L1371.1 999.5L1372.5 998.9L1373.9 998.4L1375.3 997.8L1376.7 997.2L1378.1 996.6L1379.4 996.0L1380.8 995.4L1382.2 994.8L1383.6 994.2L1384.9 993.6L1386.3 993.0L1387.7 992.5L1389.1 991.9L1390.5 991.4L1392.0 991.0L1393.4 990.5L1394.8 990.1L1396.3 989.7L1397.8 989.4L1399.2 989.1L1400.7 988.8L1402.2 988.6L1403.7 988.5L1405.2 988.4L1406.7 988.4L1408.2 988.4L1409.7 988.5L1411.2 988.7L1412.7 988.9L1414.2 989.1L1415.7 989.5L1417.1 989.8L1418.6 990.2L1420.0 990.6L1421.4 991.1L1422.8 991.6L1424.3 992.1L1425.7 992.7L1427.0 993.2L1428.4 993.8L1429.8 994.4L1431.2 995.0L1432.6 995.6L1433.9 996.2L1435.3 996.8L1436.7 997.4L1438.1 998.0L1439.4 998.5L1440.8 999.1L1442.2 999.7L1443.6 1000.2L1445.1 1000.7L1446.5 1001.1L1447.9 1001.6L1449.4 1002.0L1450.8 1002.3L1452.3 1002.6L1453.8 1002.9L1455.3 1003.1L1456.8 1003.3L1458.3 1003.3L1459.8 1003.4L1461.3 1003.4L1462.8 1003.3L1464.3 1003.2L1465.8 1003.0L1467.3 1002.8L1468.7 1002.5L1470.2 1002.1L1471.7 1001.7L1473.1 1001.3L1474.5 1000.9L1476.0 1000.4L1477.4 999.9L1478.8 999.4L1480.2 998.8L1481.5 998.2L1482.9 997.6L1484.3 997.0L1485.7 996.4L1487.1 995.8L1488.4 995.2L1489.8 994.6L1491.2 994.0L1492.6 993.5L1494.0 992.9L1495.3 992.3L1496.8 991.8L1498.2 991.3L1499.6 990.8L1501.0 990.4L1502.5 990.0L1503.9 989.6L1505.4 989.3L1506.9 989.0L1508.4 988.8L1509.9 988.6L1511.4 988.5L1512.9 988.4L1514.4 988.4L1515.9 988.5L1517.4 988.6L1518.8 988.7L1520.3 989.0L1521.8 989.2L1523.3 989.5L1524.7 989.9L1526.2 990.3L1527.6 990.7L1529.1 991.2L1530.5 991.7L1531.9 992.2L1533.3 992.8L1534.7 993.4L1536.0 993.9L1537.4 994.5L1538.8 995.1L1540.2 995.7L1541.5 996.3L1542.9 996.9L1544.3 997.5L1545.7 998.1L1547.1 998.7L1548.5 999.3L1549.9 999.8L1551.3 1000.3L1552.7 1000.8L1554.1 1001.3L1555.6 1001.7L1557.0 1002.1L1558.5 1002.4L1560.0 1002.7L1561.4 1002.9L1562.9 1003.1L1564.4 1003.3L1565.9 1003.4L1567.4 1003.4L1568.9 1003.4L1570.4 1003.3L1571.9 1003.1L1573.4 1002.9L1574.9 1002.7L1576.4 1002.4L1577.8 1002.0L1579.3 1001.6L1580.7 1001.2L1582.2 1000.8L1583.6 1000.3L1585.0 999.8L1586.4 999.2L1587.8 998.7L1589.2 998.1L1590.5 997.5L1591.9 996.9L1593.3 996.3L1594.7 995.7L1596.0 995.1L1597.4 994.5L1598.8 993.9L1600.2 993.3L1601.6 992.8L1603.0 992.2L1604.4 991.7L1605.8 991.2L1607.2 990.7L1608.7 990.3L1610.1 989.9L1611.6 989.5L1613.0 989.2L1614.5 988.9L1616.0 988.7L1617.5 988.6L1619.0 988.5L1620.5 988.4L1622.0 988.4L1623.5 988.5L1625.0 988.6L1626.5 988.8L1628.0 989.0L1629.5 989.3L1630.9 989.6L1632.4 990.0L1633.8 990.4L1635.3 990.9L1636.7 991.3L1638.1 991.9L1639.5 992.4L1640.9 992.9L1642.3 993.5L1643.7 994.1L1645.0 994.7L1646.4 995.3L1647.8 995.9L1649.2 996.5L1650.5 997.1L1651.9 997.7L1653.3 998.3L1654.7 998.8L1656.1 999.4L1657.5 999.9L1658.9 1000.4L1660.3 1000.9L1661.7 1001.4L1663.2 1001.8L1664.6 1002.2L1666.1 1002.5L1667.6 1002.8L1669.1 1003.0L1670.6 1003.2L1672.1 1003.3L1673.6 1003.4L1675.1 1003.4L1676.6 1003.3L1678.1 1003.2L1679.6 1003.1L1681.1 1002.9L1682.5 1002.6L1684.0 1002.3L1685.5 1001.9L1686.9 1001.5L1688.4 1001.1L1689.8 1000.6L1691.2 1000.1L1692.6 999.6L1694.0 999.1L1695.4 998.5L1696.8 997.9L1698.2 997.3L1699.5 996.7L1700.9 996.1L1702.3 995.5L1703.7 994.9L1705.0 994.3L1706.4 993.8L1707.8 993.2L1709.2 992.6L1710.6 992.1L1712.0 991.6L1713.4 991.1L1714.8 990.6L1716.3 990.2L1717.7 989.8L1719.2 989.4L1720.7 989.1L1722.1 988.9L1723.6 988.7L1725.1 988.5L1726.6 988.4L1728.1 988.4L1729.6 988.4L1731.1 988.5L1732.6 988.6L1734.1 988.8L1735.6 989.1L1737.1 989.4L1738.6 989.7L1740.0 990.1L1741.4 990.5L1742.9 991.0L1744.3 991.5L1745.7 992.0L1747.1 992.5L1748.5 993.1L1749.9 993.7L1751.3 994.2L1752.6 994.8L1754.0 995.4L1755.4 996.0L1756.8 996.6L1758.1 997.2L1759.5 997.8L1760.9 998.4L1762.3 999.0L1763.7 999.5L1765.1 1000.1L1766.5 1000.6L1767.9 1001.0L1769.4 1001.5L1770.8 1001.9L1772.3 1002.2L1773.7 1002.6L1775.2 1002.8L1776.7 1003.1L1778.2 1003.2L1779.7 1003.3L1781.2 1003.4L1782.7 1003.4L1784.2 1003.3L1785.7 1003.2L1787.2 1003.0L1788.7 1002.8L1790.2 1002.5L1791.6 1002.2L1793.1 1001.8L1794.5 1001.4L1796.0 1001.0L1797.4 1000.5L1798.8 1000.0L1800.2 999.5L1801.6 998.9L1803.0 998.4L1804.4 997.8L1805.8 997.2L1807.1 996.6L1808.5 996.0L1809.9 995.4L1811.3 994.8L1812.6 994.2L1814.0 993.6L1815.4 993.0L1816.8 992.5L1818.2 991.9L1819.6 991.4L1821.0 990.9L1822.5 990.5L1823.9 990.1L1825.4 989.7L1826.8 989.4L1828.3 989.1L1829.8 988.8L1831.3 988.6L1832.8 988.5L1834.3 988.4L1835.8 988.4L1837.3 988.4L1838.8 988.5L1840.3 988.7L1841.8 988.9L1843.3 989.2L1844.7 989.5L1846.2 989.8L1847.6 990.2L1849.1 990.6L1850.5 991.1L1851.9 991.6L1853.3 992.1L1854.7 992.7L1856.1 993.2L1857.5 993.8L1858.9 994.4L1860.3 995.0L1861.6 995.6L1863.0 996.2L1864.4 996.8L1865.8 997.4L1867.1 998.0L1868.5 998.6L1869.9 999.1L1871.3 999.7L1872.7 1000.2L1874.1 1000.7L1875.6 1001.1L1877.0 1001.6L1878.5 1002.0L1879.9 1002.3L1881.4 1002.6L1882.9 1002.9L1884.4 1003.1L1885.8 1003.3L1887.4 1003.4L1888.9 1003.4L1890.4 1003.4L1891.9 1003.3L1893.4 1003.2L1894.8 1003.0L1896.3 1002.7L1897.8 1002.5L1899.3 1002.1L1900.7 1001.7L1902.2 1001.3L1903.6 1000.9L1905.0 1000.4L1906.4 999.9L1907.8 999.3L1909.2 998.8L1910.6 998.2L1912.0 997.6L1913.4 997.0L1914.8 996.4L1916.1 995.8L1917.5 995.2" fill="none" stroke="#ff0000" stroke-width="6.3" stroke-linejoin="round"/>
<g class="legend">
<rect x="1483" y="616.5" width="394" height="151" fill="#262626"/>
<rect x="1486.5" y="619.5" width="387.5" height="145" fill="#fff"/>
<line x1="1500" y1="658" x2="1653" y2="658" stroke="#0072bd" stroke-width="11.0" stroke-dasharray="31.2 29.65"/>
<line x1="1500" y1="725.5" x2="1653" y2="725.5" stroke="#ff0000" stroke-width="6"/>
<text class="leg" x="1661.8" y="678.5">Normal</text>
<text class="leg" x="1662.3" y="746">Laguerre</text>
</g>
<g class="ticklabels">
<text class="tk" text-anchor="middle" x="211.5" y="1081.8">0</text>
<text class="tk" text-anchor="middle" x="552.5" y="1081.8">100</text>
<text class="tk" text-anchor="middle" x="893.5" y="1081.8">200</text>
<text class="tk" text-anchor="middle" x="1234.5" y="1081.8">300</text>
<text class="tk" text-anchor="middle" x="1575.5" y="1081.8">400</text>
<text class="tk" text-anchor="middle" x="1916.5" y="1081.8">500</text>
<text class="tk" text-anchor="end" x="189" y="1015.3">0</text>
<text class="tk" text-anchor="end" x="189" y="814.8">0.1</text>
<text class="tk" text-anchor="end" x="189" y="614.3">0.2</text>
</g>
<text class="lab" text-anchor="middle" transform="translate(81.8 803.1) rotate(-90)"><tspan class="it">v</tspan>/m·s<tspan class="sup" dy="-30.4">−1</tspan></text>
</g>
<g id="axes3">
<g class="grid">
<rect x="551" y="1132" width="4" height="425" fill="rgba(38,38,38,0.15)"/>
<rect x="892" y="1132" width="4" height="425" fill="rgba(38,38,38,0.15)"/>
<rect x="1233" y="1132" width="4" height="425" fill="rgba(38,38,38,0.15)"/>
<rect x="1574" y="1132" width="4" height="425" fill="rgba(38,38,38,0.15)"/>
<rect x="214" y="1553.5" width="1702" height="4" fill="rgba(38,38,38,0.15)"/>
<rect x="214" y="1424" width="1702" height="3" fill="rgba(38,38,38,0.15)"/>
<rect x="214" y="1294" width="1702" height="4" fill="rgba(38,38,38,0.15)"/>
<rect x="214" y="1165" width="1702" height="4" fill="rgba(38,38,38,0.15)"/>
</g>
<g class="box">
<rect x="210" y="1129" width="4" height="432" fill="#262626"/>
<rect x="1916" y="1129" width="3" height="432" fill="#262626"/>
<rect x="210" y="1129" width="1709" height="3" fill="#262626"/>
<rect x="210" y="1557" width="1709" height="4" fill="#262626"/>
<rect x="551" y="1540" width="4" height="17" fill="#262626"/>
<rect x="551" y="1132" width="4" height="17" fill="#262626"/>
<rect x="892" y="1540" width="4" height="17" fill="#262626"/>
<rect x="892" y="1132" width="4" height="17" fill="#262626"/>
<rect x="1233" y="1540" width="4" height="17" fill="#262626"/>
<rect x="1233" y="1132" width="4" height="17" fill="#262626"/>
<rect x="1574" y="1540" width="4" height="17" fill="#262626"/>
<rect x="1574" y="1132" width="4" height="17" fill="#262626"/>
<rect x="214" y="1553.5" width="17" height="4" fill="#262626"/>
<rect x="1898" y="1553.5" width="18" height="4" fill="#262626"/>
<rect x="214" y="1424" width="17" height="3" fill="#262626"/>
<rect x="1898" y="1424" width="18" height="3" fill="#262626"/>
<rect x="214" y="1294" width="17" height="4" fill="#262626"/>
<rect x="1898" y="1294" width="18" height="4" fill="#262626"/>
<rect x="214" y="1165" width="17" height="4" fill="#262626"/>
<rect x="1898" y="1165" width="18" height="4" fill="#262626"/>
</g>
<path class="normal" d="M212.5 1555.5L212.8 1554.0L213.1 1552.6L213.4 1551.1L213.7 1549.6L214.0 1548.1L214.2 1546.7L214.5 1545.2L214.8 1543.7L215.0 1542.2L215.3 1540.8L215.5 1539.3L215.8 1537.8L216.0 1536.3L216.2 1534.8L216.5 1533.3L216.7 1531.9L216.9 1530.4L217.1 1528.9L217.3 1527.4L217.5 1525.9L217.7 1524.7M221.1 1495.3L221.2 1494.6L221.3 1493.1L221.5 1491.6L221.6 1490.1L221.8 1488.6L221.9 1487.1L222.0 1485.7L222.2 1484.2L222.3 1482.7L222.4 1481.2L222.5 1479.7L222.7 1478.2L222.8 1476.7L222.9 1475.2L223.0 1473.7L223.1 1472.2L223.2 1470.7L223.4 1469.2L223.5 1467.7L223.6 1466.2L223.7 1464.7L223.7 1464.2M225.7 1434.6L225.7 1433.3L225.8 1431.8L225.9 1430.3L226.0 1428.8L226.1 1427.3L226.2 1425.8L226.3 1424.3L226.4 1422.8L226.5 1421.3L226.6 1419.8L226.7 1418.3L226.8 1416.8L226.9 1415.3L227.0 1413.8L227.1 1412.3L227.2 1410.8L227.3 1409.3L227.4 1407.8L227.5 1406.3L227.6 1404.8L227.7 1403.5M229.6 1373.9L229.6 1373.4L229.7 1371.9L229.8 1370.4L229.9 1368.9L230.0 1367.4L230.1 1365.9L230.2 1364.4L230.3 1362.9L230.4 1361.4L230.5 1359.9L230.6 1358.4L230.6 1356.9L230.7 1355.4L230.8 1353.9L230.9 1352.4L231.0 1350.9L231.1 1349.4L231.2 1347.9L231.2 1346.4L231.3 1344.9L231.4 1343.4L231.4 1342.7M233.1 1313.1L233.2 1312.0L233.2 1310.5L233.3 1309.0L233.4 1307.5L233.5 1306.0L233.6 1304.5L233.7 1303.0L233.8 1301.5L233.9 1300.0L234.0 1298.5L234.0 1297.0L234.1 1295.5L234.2 1294.0L234.3 1292.5L234.4 1291.0L234.5 1289.5L234.6 1288.0L234.7 1286.4L234.8 1284.9L234.9 1283.4L235.0 1282.0M237.1 1252.4L237.1 1252.0L237.2 1250.5L237.3 1249.0L237.4 1247.5L237.5 1246.0L237.6 1244.5L237.7 1243.0L237.9 1241.5L238.0 1240.1L238.1 1238.6L238.2 1237.1L238.3 1235.6L238.4 1234.1L238.5 1232.7L238.7 1231.2L238.8 1229.7L238.9 1228.2L239.0 1226.7L239.1 1225.3L239.3 1223.8L239.4 1222.3L239.5 1221.3M242.5 1191.8L242.7 1190.7L242.9 1189.1L243.1 1187.6L243.3 1186.0L243.5 1184.5L243.7 1183.0L243.9 1181.4L244.2 1179.9L244.4 1178.4L244.6 1176.9L244.8 1175.4L245.1 1174.0L245.3 1172.5L245.5 1171.1L245.7 1169.7L246.0 1168.3L246.2 1166.9L246.4 1165.6L246.6 1164.3L246.8 1163.0L247.1 1161.7L247.2 1161.0M255.2 1139.6L255.6 1140.8L256.2 1142.7L256.7 1144.6L257.2 1146.5L257.6 1148.2L258.0 1149.9L258.3 1151.5L258.6 1153.1L258.9 1154.5L259.1 1156.0L259.4 1157.4L259.5 1158.7L259.7 1160.1L259.9 1161.4L260.0 1162.7L260.2 1164.0L260.3 1165.3L260.4 1166.7L260.6 1168.0L260.8 1169.4L260.9 1170.2M264.6 1199.7L264.7 1200.9L264.9 1202.5L265.1 1204.0L265.3 1205.5L265.5 1207.0L265.6 1208.5L265.8 1210.1L266.0 1211.6L266.2 1213.1L266.3 1214.6L266.5 1216.1L266.7 1217.5L266.8 1219.0L267.0 1220.5L267.2 1222.0L267.3 1223.5L267.5 1225.0L267.7 1226.4L267.8 1227.9L268.0 1229.4L268.1 1230.7M271.2 1260.1L271.2 1260.5L271.3 1262.0L271.5 1263.5L271.6 1265.0L271.8 1266.5L271.9 1268.0L272.1 1269.5L272.2 1271.0L272.4 1272.5L272.5 1274.0L272.7 1275.5L272.8 1277.0L273.0 1278.5L273.1 1280.0L273.2 1281.5L273.4 1283.0L273.5 1284.5L273.7 1286.0L273.8 1287.5L274.0 1289.0L274.1 1290.5L274.2 1291.2M276.8 1320.7L276.9 1321.9L277.0 1323.4L277.1 1324.9L277.3 1326.4L277.4 1327.9L277.5 1329.4L277.7 1330.9L277.8 1332.4L277.9 1333.8L278.1 1335.3L278.2 1336.8L278.4 1338.3L278.5 1339.8L278.7 1341.3L278.8 1342.8L279.0 1344.3L279.1 1345.8L279.3 1347.3L279.4 1348.8L279.6 1350.3L279.7 1351.8L279.7 1351.8M282.9 1381.3L283.0 1381.6L283.2 1383.1L283.3 1384.6L283.5 1386.1L283.7 1387.6L283.8 1389.1L284.0 1390.5L284.2 1392.0L284.3 1393.5L284.5 1395.0L284.7 1396.5L284.8 1398.0L285.0 1399.5L285.2 1401.0L285.3 1402.5L285.5 1404.0L285.7 1405.5L285.8 1406.9L286.0 1408.4L286.2 1409.9L286.3 1411.4L286.4 1412.3M289.8 1441.7L290.0 1442.7L290.1 1444.2L290.3 1445.7L290.5 1447.2L290.7 1448.7L290.9 1450.2L291.1 1451.7L291.4 1453.1L291.6 1454.6L291.8 1456.1L292.0 1457.6L292.2 1459.1L292.5 1460.6L292.7 1462.0L293.0 1463.5L293.2 1465.0L293.5 1466.5L293.7 1467.9L294.0 1469.4L294.3 1470.9L294.6 1472.4L294.6 1472.6M301.2 1501.4L301.3 1501.6L301.7 1503.1L302.1 1504.5L302.5 1506.0L303.0 1507.4L303.4 1508.8L303.9 1510.2L304.4 1511.7L304.9 1513.1L305.4 1514.5L305.9 1515.9L306.4 1517.3L307.0 1518.7L307.5 1520.1L308.1 1521.5L308.7 1522.9L309.3 1524.2L310.0 1525.6L310.6 1527.0L311.3 1528.3L312.0 1529.6L312.5 1530.5M337.8 1541.9L338.2 1541.9L339.7 1541.6L341.2 1541.5L342.6 1541.3L344.1 1541.2L345.6 1541.1L347.1 1541.1L348.6 1541.1L350.1 1541.1L351.7 1541.2L353.2 1541.2L354.7 1541.3L356.2 1541.4L357.7 1541.6L359.1 1541.7L360.6 1541.8L362.1 1542.0L363.6 1542.2L365.1 1542.4L366.6 1542.6L368.1 1542.8L368.9 1542.9M398.2 1546.3L399.4 1546.4L400.9 1546.5L402.4 1546.5L403.9 1546.6L405.4 1546.6L406.9 1546.7L408.4 1546.7L409.9 1546.8L411.4 1546.8L412.9 1546.9L414.4 1546.9L415.9 1546.9L417.4 1547.0L418.9 1547.0L420.4 1547.0L421.9 1547.0L423.4 1547.0L424.9 1547.0L426.4 1547.0L427.9 1547.0L429.4 1547.0L429.4 1547.0M458.5 1548.9L459.3 1549.0L460.7 1549.2L462.2 1549.5L463.7 1549.7L465.2 1549.9L466.7 1550.1L468.2 1550.3L469.7 1550.5L471.2 1550.7L472.6 1550.9L474.1 1551.1L475.6 1551.3L477.1 1551.5L478.6 1551.6L480.1 1551.8L481.6 1552.0L483.1 1552.2L484.6 1552.3L486.1 1552.5L487.5 1552.6L489.0 1552.7L489.5 1552.8M518.9 1554.3L519.0 1554.3L520.5 1554.4L522.0 1554.5L523.5 1554.6L525.0 1554.6L526.5 1554.7L528.0 1554.8L529.5 1554.9L531.0 1554.9L532.5 1555.0L534.0 1555.1L535.5 1555.2L537.0 1555.2L538.5 1555.3L540.0 1555.4L541.5 1555.5L543.0 1555.5L544.5 1555.6L546.0 1555.7L547.5 1555.8L549.0 1555.8L550.1 1555.9M579.4 1557.6L580.5 1557.6L582.0 1557.7L583.5 1557.7L585.0 1557.7L586.5 1557.8L588.0 1557.8L589.5 1557.8L591.0 1557.8L592.4 1557.7L593.9 1557.7L595.4 1557.6L596.9 1557.5L598.4 1557.4L599.9 1557.3L601.4 1557.2L602.9 1557.0L604.4 1556.9L605.9 1556.7L607.4 1556.5L608.9 1556.4L610.4 1556.2L610.5 1556.2M639.8 1552.3L640.2 1552.2L641.7 1552.1L643.2 1551.9L644.7 1551.7L646.2 1551.6L647.7 1551.5L649.2 1551.4L650.7 1551.2L652.1 1551.1L653.6 1551.1L655.1 1551.0L656.6 1550.9L658.1 1550.9L659.6 1550.8L661.1 1550.8L662.6 1550.8L664.1 1550.8L665.6 1550.8L667.1 1550.8L668.6 1550.9L670.1 1550.9L671.0 1550.9M700.3 1552.4L701.6 1552.5L703.1 1552.5L704.6 1552.6L706.1 1552.7L707.6 1552.7L709.1 1552.8L710.6 1552.9L712.1 1552.9L713.6 1553.0L715.1 1553.1L716.6 1553.1L718.1 1553.2L719.6 1553.3L721.1 1553.3L722.6 1553.4L724.1 1553.5L725.6 1553.6L727.1 1553.7L728.6 1553.7L730.1 1553.8L731.5 1553.9M760.8 1556.2L761.5 1556.3L763.0 1556.4L764.5 1556.6L766.0 1556.7L767.5 1556.8L769.0 1557.0L770.5 1557.1L772.0 1557.2L773.5 1557.4L775.0 1557.5L776.5 1557.6L778.0 1557.7L779.5 1557.9L781.0 1558.0L782.5 1558.1L784.0 1558.2L785.5 1558.3L787.0 1558.4L788.5 1558.4L790.0 1558.5L791.5 1558.6L791.9 1558.6M821.2 1557.5L821.4 1557.4L822.9 1557.3L824.4 1557.1L825.9 1557.0L827.4 1556.8L828.9 1556.6L830.3 1556.4L831.8 1556.3L833.3 1556.1L834.8 1555.9L836.3 1555.7L837.8 1555.5L839.3 1555.4L840.8 1555.2L842.3 1555.0L843.8 1554.9L845.3 1554.7L846.8 1554.5L848.3 1554.4L849.8 1554.2L851.3 1554.1L852.3 1554.0M881.7 1552.3L882.7 1552.3L884.2 1552.2L885.7 1552.2L887.2 1552.2L888.7 1552.2L890.2 1552.2L891.7 1552.1L893.2 1552.1L894.7 1552.1L896.2 1552.1L897.7 1552.1L899.2 1552.1L900.7 1552.1L902.2 1552.1L903.7 1552.2L905.2 1552.2L906.7 1552.2L908.2 1552.2L909.7 1552.2L911.2 1552.2L912.7 1552.2L912.9 1552.2M942.2 1552.1L942.8 1552.1L944.3 1552.0L945.8 1552.0L947.3 1552.0L948.8 1552.0L950.3 1552.0L951.8 1552.0L953.3 1552.0L954.8 1552.0L956.3 1552.0L957.8 1552.0L959.3 1552.0L960.8 1552.0L962.3 1552.0L963.8 1552.1L965.3 1552.1L966.8 1552.1L968.3 1552.2L969.8 1552.3L971.3 1552.3L972.8 1552.4L973.4 1552.4M1002.7 1555.7L1004.1 1555.9L1005.6 1556.2L1007.0 1556.4L1008.5 1556.6L1010.0 1556.9L1011.5 1557.1L1013.0 1557.3L1014.5 1557.5L1016.0 1557.7L1017.5 1557.9L1019.0 1558.1L1020.5 1558.2L1021.9 1558.3L1023.4 1558.5L1024.9 1558.6L1026.4 1558.6L1027.9 1558.7L1029.4 1558.7L1030.9 1558.7L1032.4 1558.7L1033.7 1558.6M1063.1 1555.6L1063.8 1555.6L1065.3 1555.4L1066.8 1555.3L1068.3 1555.1L1069.8 1555.0L1071.3 1554.9L1072.8 1554.8L1074.3 1554.7L1075.8 1554.6L1077.3 1554.5L1078.8 1554.4L1080.3 1554.3L1081.8 1554.3L1083.3 1554.2L1084.8 1554.1L1086.3 1554.1L1087.8 1554.0L1089.3 1554.0L1090.8 1553.9L1092.3 1553.8L1093.8 1553.8L1094.3 1553.8M1123.6 1552.7L1123.7 1552.7L1125.2 1552.7L1126.7 1552.6L1128.2 1552.5L1129.7 1552.5L1131.2 1552.4L1132.7 1552.3L1134.2 1552.3L1135.7 1552.2L1137.2 1552.1L1138.7 1552.0L1140.2 1551.9L1141.7 1551.8L1143.2 1551.7L1144.7 1551.6L1146.2 1551.5L1147.7 1551.4L1149.2 1551.3L1150.7 1551.2L1152.2 1551.1L1153.7 1551.0L1154.7 1551.0M1184.1 1550.3L1185.2 1550.4L1186.7 1550.5L1188.2 1550.6L1189.7 1550.7L1191.2 1550.8L1192.7 1551.0L1194.2 1551.1L1195.7 1551.3L1197.1 1551.5L1198.6 1551.6L1200.1 1551.8L1201.6 1552.0L1203.1 1552.2L1204.6 1552.4L1206.1 1552.7L1207.6 1552.9L1209.1 1553.1L1210.5 1553.3L1212.0 1553.6L1213.5 1553.8L1215.0 1554.0L1215.0 1554.0M1244.5 1557.5L1244.8 1557.5L1246.3 1557.5L1247.8 1557.6L1249.3 1557.6L1250.8 1557.6L1252.3 1557.6L1253.8 1557.6L1255.3 1557.6L1256.8 1557.6L1258.3 1557.5L1259.8 1557.5L1261.3 1557.4L1262.8 1557.3L1264.3 1557.3L1265.8 1557.2L1267.3 1557.1L1268.8 1557.0L1270.3 1556.9L1271.8 1556.8L1273.3 1556.7L1274.8 1556.6L1275.7 1556.6M1305.0 1555.3L1306.3 1555.2L1307.8 1555.2L1309.3 1555.1L1310.8 1555.1L1312.3 1555.0L1313.8 1555.0L1315.3 1554.9L1316.8 1554.9L1318.3 1554.8L1319.8 1554.7L1321.3 1554.7L1322.8 1554.6L1324.3 1554.5L1325.8 1554.4L1327.3 1554.4L1328.8 1554.3L1330.3 1554.2L1331.8 1554.1L1333.3 1554.0L1334.8 1553.9L1336.2 1553.8M1365.5 1551.8L1366.2 1551.8L1367.7 1551.7L1369.2 1551.6L1370.7 1551.5L1372.2 1551.4L1373.7 1551.4L1375.2 1551.3L1376.7 1551.2L1378.2 1551.1L1379.7 1551.1L1381.2 1551.0L1382.7 1551.0L1384.2 1550.9L1385.7 1550.9L1387.2 1550.9L1388.7 1550.8L1390.2 1550.8L1391.7 1550.8L1393.2 1550.8L1394.7 1550.8L1396.2 1550.8L1396.7 1550.9M1425.9 1552.8L1426.2 1552.8L1427.7 1552.9L1429.2 1553.1L1430.7 1553.3L1432.2 1553.4L1433.6 1553.6L1435.1 1553.7L1436.6 1553.9L1438.1 1554.0L1439.6 1554.2L1441.1 1554.4L1442.6 1554.5L1444.1 1554.7L1445.6 1554.8L1447.1 1555.0L1448.6 1555.1L1450.1 1555.2L1451.6 1555.4L1453.1 1555.5L1454.6 1555.6L1456.0 1555.7L1457.0 1555.8M1486.4 1556.6L1487.5 1556.6L1489.0 1556.6L1490.5 1556.6L1492.0 1556.6L1493.5 1556.6L1495.0 1556.6L1496.5 1556.6L1498.1 1556.6L1499.6 1556.6L1501.1 1556.6L1502.6 1556.6L1504.1 1556.6L1505.6 1556.6L1507.1 1556.6L1508.6 1556.6L1510.1 1556.6L1511.6 1556.6L1513.1 1556.6L1514.6 1556.6L1516.1 1556.6L1517.6 1556.6L1517.6 1556.6M1546.9 1556.2L1547.6 1556.2L1549.1 1556.1L1550.6 1556.0L1552.1 1556.0L1553.6 1555.9L1555.1 1555.8L1556.6 1555.7L1558.0 1555.6L1559.5 1555.5L1561.0 1555.3L1562.5 1555.2L1564.0 1555.1L1565.5 1555.0L1567.0 1554.8L1568.5 1554.7L1570.0 1554.5L1571.5 1554.4L1573.0 1554.2L1574.5 1554.1L1576.0 1553.9L1577.5 1553.8L1578.0 1553.7M1607.4 1550.8L1607.4 1550.8L1608.9 1550.7L1610.4 1550.6L1611.9 1550.5L1613.4 1550.4L1614.9 1550.4L1616.4 1550.3L1617.9 1550.3L1619.4 1550.3L1620.9 1550.3L1622.4 1550.3L1623.8 1550.3L1625.3 1550.4L1626.8 1550.4L1628.3 1550.5L1629.8 1550.5L1631.3 1550.6L1632.8 1550.7L1634.3 1550.8L1635.8 1550.9L1637.3 1551.0L1638.5 1551.1M1667.8 1553.4L1668.8 1553.5L1670.3 1553.6L1671.8 1553.7L1673.3 1553.8L1674.8 1553.9L1676.3 1553.9L1677.8 1554.0L1679.3 1554.1L1680.8 1554.2L1682.3 1554.3L1683.7 1554.4L1685.2 1554.5L1686.7 1554.6L1688.2 1554.6L1689.7 1554.7L1691.2 1554.8L1692.7 1554.9L1694.2 1555.0L1695.7 1555.1L1697.2 1555.2L1698.7 1555.3L1699.0 1555.3M1728.3 1557.1L1728.7 1557.1L1730.2 1557.2L1731.7 1557.3L1733.2 1557.4L1734.7 1557.5L1736.2 1557.5L1737.7 1557.6L1739.2 1557.7L1740.7 1557.8L1742.2 1557.8L1743.7 1557.9L1745.2 1557.9L1746.7 1558.0L1748.2 1558.0L1749.7 1558.1L1751.2 1558.1L1752.7 1558.1L1754.2 1558.2L1755.7 1558.2L1757.2 1558.2L1758.7 1558.2L1759.5 1558.2M1788.8 1556.6L1790.1 1556.5L1791.6 1556.3L1793.1 1556.2L1794.6 1556.0L1796.1 1555.9L1797.6 1555.7L1799.1 1555.6L1800.6 1555.4L1802.1 1555.3L1803.6 1555.2L1805.1 1555.0L1806.6 1554.9L1808.1 1554.7L1809.6 1554.6L1811.1 1554.4L1812.6 1554.3L1814.1 1554.1L1815.5 1554.0L1817.0 1553.9L1818.5 1553.7L1819.8 1553.6M1849.2 1551.8L1850.0 1551.8L1851.5 1551.8L1853.0 1551.8L1854.5 1551.7L1856.0 1551.7L1857.5 1551.7L1859.0 1551.7L1860.5 1551.7L1862.0 1551.7L1863.5 1551.7L1865.0 1551.7L1866.5 1551.7L1868.0 1551.7L1869.5 1551.8L1871.0 1551.8L1872.5 1551.8L1874.0 1551.9L1875.5 1551.9L1877.0 1551.9L1878.5 1552.0L1880.0 1552.0L1880.4 1552.0M1909.7 1552.8L1910.0 1552.9L1911.5 1552.9L1913.0 1552.9L1914.5 1552.9L1916.0 1552.9L1917.5 1552.9" fill="none" stroke="#0072bd" stroke-width="11.0" stroke-linejoin="round"/>
<path class="laguerre" d="M212.5 1555.5L212.8 1554.0L213.1 1552.6L213.4 1551.1L213.7 1549.6L214.0 1548.1L214.2 1546.7L214.5 1545.2L214.8 1543.7L215.0 1542.2L215.3 1540.8L215.5 1539.3L215.8 1537.8L216.0 1536.3L216.2 1534.8L216.5 1533.3L216.7 1531.9L216.9 1530.4L217.1 1528.9L217.3 1527.4L217.5 1525.9L217.7 1524.4L217.9 1522.9L218.1 1521.5L218.3 1520.0L218.5 1518.5L218.7 1517.0L218.9 1515.5L219.1 1514.0L219.3 1512.5L219.4 1511.0L219.6 1509.5L219.8 1508.0L220.0 1506.6L220.1 1505.1L220.3 1503.6L220.4 1502.1L220.6 1500.6L220.8 1499.1L220.9 1497.6L221.1 1496.1L221.2 1494.6L221.3 1493.1L221.5 1491.6L221.6 1490.1L221.8 1488.6L221.9 1487.1L222.0 1485.6L222.2 1484.2L222.3 1482.7L222.4 1481.2L222.5 1479.7L222.7 1478.2L222.8 1476.7L222.9 1475.2L223.0 1473.7L223.1 1472.2L223.2 1470.7L223.4 1469.2L223.5 1467.7L223.6 1466.2L223.7 1464.7L223.8 1463.2L223.9 1461.7L224.0 1460.2L224.1 1458.7L224.2 1457.2L224.3 1455.7L224.4 1454.2L224.5 1452.7L224.6 1451.2L224.7 1449.7L224.8 1448.2L224.9 1446.7L225.0 1445.2L225.1 1443.7L225.2 1442.2L225.3 1440.7L225.4 1439.3L225.5 1437.8L225.6 1436.3L225.6 1434.8L225.7 1433.3L225.8 1431.8L225.9 1430.3L226.0 1428.8L226.1 1427.3L226.2 1425.8L226.3 1424.3L226.4 1422.8L226.5 1421.3L226.6 1419.8L226.7 1418.3L226.8 1416.8L226.9 1415.3L227.0 1413.8L227.1 1412.3L227.2 1410.8L227.3 1409.3L227.4 1407.8L227.5 1406.3L227.6 1404.8L227.7 1403.3L227.8 1401.8L227.9 1400.3L228.0 1398.8L228.1 1397.3L228.2 1395.8L228.3 1394.3L228.4 1392.8L228.5 1391.3L228.6 1389.8L228.7 1388.3L228.8 1386.8L228.9 1385.3L229.0 1383.8L229.1 1382.3L229.2 1380.8L229.3 1379.3L229.4 1377.8L229.5 1376.4L229.5 1374.9L229.6 1373.4L229.7 1371.9L229.8 1370.4L229.9 1368.9L230.0 1367.4L230.1 1365.9L230.2 1364.4L230.3 1362.9L230.4 1361.4L230.5 1359.9L230.6 1358.4L230.6 1356.9L230.7 1355.4L230.8 1353.9L230.9 1352.4L231.0 1350.9L231.1 1349.4L231.2 1347.9L231.2 1346.4L231.3 1344.9L231.4 1343.4L231.5 1341.9L231.6 1340.4L231.7 1338.9L231.7 1337.4L231.8 1335.9L231.9 1334.4L232.0 1332.9L232.1 1331.4L232.2 1329.9L232.2 1328.4L232.3 1326.9L232.4 1325.4L232.5 1323.9L232.6 1322.5L232.7 1321.0L232.7 1319.5L232.8 1318.0L232.9 1316.5L233.0 1315.0L233.1 1313.5L233.2 1312.0L233.2 1310.5L233.3 1309.0L233.4 1307.5L233.5 1306.0L233.6 1304.5L233.7 1303.0L233.8 1301.5L233.9 1300.0L234.0 1298.5L234.0 1297.0L234.1 1295.5L234.2 1294.0L234.3 1292.5L234.4 1291.0L234.5 1289.5L234.6 1287.9L234.7 1286.4L234.8 1284.9L234.9 1283.4L235.0 1281.9L235.1 1280.4L235.2 1278.9L235.3 1277.4L235.4 1275.9L235.5 1274.4L235.6 1272.9L235.7 1271.4L235.8 1269.9L235.9 1268.4L236.0 1266.9L236.1 1265.4L236.2 1263.9L236.3 1262.4L236.4 1260.9L236.5 1259.4L236.6 1257.9L236.7 1256.5L236.8 1255.0L236.9 1253.5L237.0 1252.0L237.1 1250.5L237.3 1249.0L237.4 1247.5L237.5 1246.0L237.6 1244.5L237.7 1243.0L237.8 1241.5L237.9 1240.0L238.0 1238.6L238.1 1237.1L238.2 1235.6L238.3 1234.1L238.4 1232.6L238.5 1231.1L238.6 1229.7L238.7 1228.2L238.8 1226.7L239.0 1225.2L239.1 1223.7L239.2 1222.3L239.3 1220.8L239.4 1219.3L239.5 1217.8L239.7 1216.3L239.8 1214.8L239.9 1213.3L240.1 1211.8L240.2 1210.3L240.3 1208.8L240.5 1207.3L240.6 1205.8L240.8 1204.3L240.9 1202.8L241.1 1201.3L241.3 1199.8L241.4 1198.3L241.6 1196.8L241.8 1195.3L242.0 1193.7L242.2 1192.2L242.4 1190.7L242.6 1189.1L242.8 1187.6L243.0 1186.1L243.2 1184.5L243.5 1183.0L243.7 1181.5L243.9 1180.0L244.1 1178.5L244.3 1177.0L244.6 1175.5L244.8 1174.0L245.0 1172.6L245.2 1171.1L245.4 1169.7L245.6 1168.3L245.8 1166.9L246.0 1165.6L246.2 1164.2L246.4 1162.9L246.5 1161.6L246.7 1160.2L246.9 1158.9L247.1 1157.6L247.3 1156.2L247.5 1154.8L247.7 1153.4L247.9 1151.9L248.2 1150.4L248.5 1148.8L248.7 1147.2L249.1 1145.5L249.4 1143.8L249.7 1142.0L250.1 1140.0L250.6 1138.1L251.0 1136.2L251.5 1134.5L251.9 1132.9L252.4 1131.8L252.9 1131.0L253.4 1130.7L253.9 1130.9L254.4 1131.6L254.9 1132.8L255.4 1134.2L255.9 1135.9L256.4 1137.8L256.8 1139.8L257.3 1141.8L257.7 1143.9L258.1 1145.8L258.4 1147.6L258.8 1149.3L259.1 1150.9L259.4 1152.5L259.7 1154.0L260.0 1155.4L260.2 1156.8L260.4 1158.2L260.7 1159.5L260.9 1160.8L261.1 1162.1L261.3 1163.4L261.5 1164.7L261.7 1166.0L261.9 1167.4L262.0 1168.7L262.2 1170.1L262.4 1171.5L262.6 1172.9L262.8 1174.4L262.9 1175.8L263.1 1177.3L263.3 1178.8L263.4 1180.3L263.6 1181.8L263.7 1183.3L263.9 1184.8L264.1 1186.3L264.2 1187.9L264.4 1189.4L264.5 1191.0L264.7 1192.5L264.9 1194.1L265.0 1195.6L265.2 1197.2L265.3 1198.7L265.5 1200.3L265.6 1201.8L265.8 1203.4L265.9 1204.9L266.1 1206.4L266.2 1207.9L266.4 1209.4L266.5 1211.0L266.7 1212.5L266.9 1214.0L267.0 1215.5L267.2 1217.0L267.3 1218.4L267.5 1219.9L267.6 1221.4L267.8 1222.9L267.9 1224.4L268.1 1225.9L268.2 1227.3L268.4 1228.8L268.5 1230.3L268.7 1231.8L268.8 1233.3L269.0 1234.7L269.1 1236.2L269.3 1237.7L269.4 1239.2L269.6 1240.6L269.7 1242.1L269.9 1243.6L270.0 1245.1L270.1 1246.6L270.3 1248.0L270.4 1249.5L270.6 1251.0L270.7 1252.5L270.9 1254.0L271.0 1255.5L271.1 1257.0L271.3 1258.5L271.4 1260.0L271.6 1261.5L271.7 1263.0L271.8 1264.4L272.0 1265.9L272.1 1267.4L272.2 1268.9L272.4 1270.4L272.5 1271.9L272.6 1273.4L272.8 1274.9L272.9 1276.4L273.0 1277.9L273.2 1279.4L273.3 1280.9L273.4 1282.4L273.6 1283.9L273.7 1285.4L273.8 1286.9L274.0 1288.4L274.1 1289.9L274.2 1291.4L274.3 1292.9L274.5 1294.4L274.6 1295.9L274.7 1297.4L274.8 1298.9L275.0 1300.4L275.1 1301.9L275.2 1303.4L275.3 1304.9L275.5 1306.4L275.6 1307.9L275.7 1309.4L275.8 1310.9L275.9 1312.4L276.1 1313.9L276.2 1315.4L276.3 1316.9L276.4 1318.4L276.5 1319.9L276.7 1321.4L276.8 1322.9L276.9 1324.4L277.0 1325.9L277.1 1327.3L277.3 1328.8L277.4 1330.3L277.5 1331.8L277.6 1333.3L277.7 1334.8L277.9 1336.3L278.0 1337.8L278.1 1339.3L278.2 1340.8L278.3 1342.3L278.4 1343.8L278.6 1345.3L278.7 1346.8L278.8 1348.3L278.9 1349.8L279.0 1351.3L279.2 1352.8L279.3 1354.3L279.4 1355.8L279.5 1357.2L279.6 1358.7L279.8 1360.2L279.9 1361.7L280.0 1363.2L280.1 1364.7L280.3 1366.2L280.4 1367.7L280.5 1369.2L280.6 1370.7L280.7 1372.2L280.9 1373.7L281.0 1375.2L281.1 1376.7L281.2 1378.2L281.3 1379.7L281.5 1381.2L281.6 1382.7L281.7 1384.2L281.8 1385.7L282.0 1387.2L282.1 1388.7L282.2 1390.2L282.3 1391.7L282.4 1393.2L282.6 1394.6L282.7 1396.1L282.8 1397.6L282.9 1399.1L283.1 1400.6L283.2 1402.1L283.3 1403.6L283.4 1405.1L283.6 1406.6L283.7 1408.1L283.8 1409.6L284.0 1411.1L284.1 1412.6L284.2 1414.1L284.4 1415.6L284.5 1417.1L284.7 1418.6L284.8 1420.1L285.0 1421.6L285.1 1423.0L285.3 1424.5L285.4 1426.0L285.6 1427.5L285.7 1429.0L285.9 1430.5L286.0 1432.0L286.2 1433.5L286.4 1435.0L286.5 1436.5L286.7 1438.0L286.9 1439.5L287.1 1440.9L287.2 1442.4L287.4 1443.9L287.6 1445.4L287.8 1446.9L288.0 1448.4L288.1 1449.9L288.3 1451.4L288.5 1452.9L288.7 1454.3L288.9 1455.8L289.1 1457.3L289.3 1458.8L289.5 1460.3L289.7 1461.8L289.9 1463.3L290.1 1464.8L290.3 1466.2L290.5 1467.7L290.7 1469.2L291.0 1470.7L291.2 1472.2L291.4 1473.7L291.6 1475.2L291.9 1476.6L292.1 1478.1L292.3 1479.6L292.6 1481.1L292.9 1482.6L293.1 1484.0L293.4 1485.5L293.6 1487.0L293.9 1488.5L294.2 1489.9L294.5 1491.4L294.8 1492.9L295.1 1494.4L295.4 1495.8L295.7 1497.3L296.1 1498.8L296.4 1500.2L296.8 1501.7L297.1 1503.1L297.5 1504.6L297.9 1506.0L298.3 1507.5L298.7 1508.9L299.1 1510.4L299.5 1511.8L299.9 1513.2L300.4 1514.7L300.9 1516.1L301.3 1517.5L301.8 1518.9L302.4 1520.3L302.9 1521.7L303.5 1523.1L304.1 1524.5L304.7 1525.9L305.3 1527.3L306.0 1528.6L306.8 1530.0L307.6 1531.2L308.5 1532.4L309.5 1533.6L310.5 1534.6L311.7 1535.6L313.0 1536.4L314.3 1537.2L315.7 1537.8L317.1 1538.3L318.5 1538.6L320.0 1538.9L321.5 1539.0L323.0 1539.0L324.6 1539.0L326.1 1538.9L327.6 1538.8L329.1 1538.6L330.6 1538.4L332.1 1538.2L333.6 1538.0L335.0 1537.8L336.5 1537.6L338.0 1537.4L339.5 1537.2L341.0 1537.1L342.5 1536.9L344.0 1536.8L345.5 1536.8L347.0 1536.8L348.5 1536.8L350.0 1536.8L351.5 1536.9L353.0 1537.1L354.5 1537.3L356.0 1537.5L357.4 1537.7L358.9 1538.0L360.4 1538.3L361.8 1538.6L363.3 1539.0L364.8 1539.3L366.2 1539.7L367.7 1540.1L369.1 1540.5L370.6 1540.9L372.0 1541.3L373.5 1541.7L374.9 1542.1L376.4 1542.5L377.8 1542.9L379.3 1543.2L380.8 1543.5L382.2 1543.8L383.7 1544.1L385.2 1544.3L386.7 1544.5L388.1 1544.7L389.6 1544.9L391.1 1545.0L392.6 1545.1L394.1 1545.2L395.6 1545.2L397.1 1545.3L398.6 1545.4L400.2 1545.4L401.7 1545.5L403.2 1545.5L404.7 1545.6L406.2 1545.6L407.7 1545.7L409.2 1545.7L410.7 1545.8L412.2 1545.8L413.7 1545.8L415.2 1545.9L416.7 1545.9L418.2 1545.9L419.7 1546.0L421.2 1546.0L422.7 1546.0L424.2 1546.0L425.7 1546.0L427.2 1546.0L428.7 1546.1L430.2 1546.1L431.7 1546.1L433.2 1546.1L434.7 1546.1L436.2 1546.2L437.7 1546.2L439.2 1546.3L440.7 1546.4L442.2 1546.4L443.7 1546.5L445.2 1546.7L446.6 1546.8L448.1 1546.9L449.6 1547.1L451.1 1547.3L452.6 1547.5L454.1 1547.7L455.6 1547.9L457.1 1548.2L458.5 1548.4L460.0 1548.6L461.5 1548.8L463.0 1549.1L464.5 1549.3L466.0 1549.5L467.5 1549.7L468.9 1550.0L470.4 1550.2L471.9 1550.4L473.4 1550.6L474.9 1550.8L476.4 1551.0L477.9 1551.2L479.3 1551.3L480.8 1551.5L482.3 1551.7L483.8 1551.9L485.3 1552.0L486.8 1552.2L488.3 1552.4L489.8 1552.5L491.3 1552.7L492.8 1552.8L494.3 1552.9L495.8 1553.1L497.3 1553.2L498.8 1553.3L500.3 1553.4L501.8 1553.5L503.2 1553.6L504.7 1553.7L506.2 1553.8L507.7 1553.8L509.2 1553.9L510.7 1554.0L512.2 1554.1L513.7 1554.1L515.2 1554.2L516.7 1554.3L518.2 1554.3L519.7 1554.4L521.2 1554.4L522.7 1554.5L524.2 1554.6L525.7 1554.6L527.2 1554.7L528.7 1554.7L530.2 1554.8L531.7 1554.9L533.2 1554.9L534.7 1555.0L536.2 1555.1L537.7 1555.1L539.2 1555.2L540.7 1555.2L542.2 1555.3L543.7 1555.4L545.2 1555.4L546.7 1555.5L548.2 1555.6L549.7 1555.7L551.2 1555.7L552.7 1555.8L554.2 1555.9L555.7 1555.9L557.2 1556.0L558.7 1556.1L560.2 1556.2L561.7 1556.2L563.2 1556.3L564.7 1556.4L566.2 1556.5L567.7 1556.5L569.2 1556.6L570.7 1556.7L572.2 1556.8L573.7 1556.8L575.2 1556.9L576.7 1557.0L578.2 1557.1L579.7 1557.1L581.2 1557.2L582.7 1557.3L584.2 1557.3L585.7 1557.4L587.2 1557.4L588.7 1557.4L590.2 1557.4L591.7 1557.4L593.2 1557.4L594.7 1557.4L596.2 1557.3L597.7 1557.3L599.2 1557.2L600.7 1557.1L602.2 1557.0L603.7 1556.9L605.2 1556.8L606.7 1556.6L608.2 1556.5L609.7 1556.4L611.2 1556.2L612.6 1556.1L614.1 1555.9L615.6 1555.7L617.1 1555.6L618.6 1555.4L620.1 1555.2L621.6 1555.0L623.1 1554.8L624.6 1554.6L626.1 1554.5L627.6 1554.3L629.1 1554.1L630.6 1553.9L632.1 1553.7L633.6 1553.6L635.0 1553.4L636.5 1553.2L638.0 1553.1L639.5 1552.9L641.0 1552.7L642.5 1552.6L644.0 1552.5L645.5 1552.3L647.0 1552.2L648.5 1552.1L650.0 1551.9L651.5 1551.8L653.0 1551.7L654.5 1551.7L656.0 1551.6L657.5 1551.5L659.0 1551.5L660.5 1551.4L662.0 1551.4L663.5 1551.4L665.0 1551.3L666.5 1551.3L668.0 1551.3L669.5 1551.4L671.0 1551.4L672.5 1551.4L674.0 1551.5L675.5 1551.5L677.0 1551.6L678.5 1551.6L680.0 1551.7L681.5 1551.7L683.0 1551.8L684.5 1551.9L686.0 1552.0L687.5 1552.0L689.0 1552.1L690.5 1552.2L692.0 1552.3L693.5 1552.3L695.0 1552.4L696.5 1552.5L698.0 1552.5L699.5 1552.6L701.0 1552.7L702.5 1552.7L704.0 1552.8L705.5 1552.8L707.0 1552.9L708.5 1553.0L710.0 1553.0L711.5 1553.1L713.0 1553.1L714.5 1553.2L716.0 1553.2L717.5 1553.3L719.0 1553.4L720.5 1553.4L722.0 1553.5L723.5 1553.5L725.0 1553.6L726.5 1553.7L728.0 1553.7L729.4 1553.8L730.9 1553.9L732.4 1554.0L733.9 1554.1L735.4 1554.1L736.9 1554.2L738.4 1554.3L739.9 1554.4L741.4 1554.5L742.9 1554.6L744.4 1554.7L745.9 1554.8L747.4 1554.9L748.9 1555.0L750.4 1555.1L751.9 1555.2L753.4 1555.3L754.9 1555.4L756.4 1555.6L757.9 1555.7L759.4 1555.8L760.9 1555.9L762.4 1556.0L763.9 1556.1L765.4 1556.2L766.9 1556.4L768.4 1556.5L769.9 1556.6L771.4 1556.7L772.9 1556.8L774.4 1556.9L775.9 1557.0L777.4 1557.2L778.9 1557.3L780.4 1557.4L781.9 1557.5L783.4 1557.6L784.9 1557.7L786.4 1557.8L787.9 1557.8L789.4 1557.9L790.9 1558.0L792.4 1558.0L793.9 1558.1L795.4 1558.2L796.9 1558.2L798.4 1558.2L799.9 1558.2L801.4 1558.3L802.9 1558.2L804.4 1558.2L805.9 1558.2L807.3 1558.2L808.8 1558.1L810.3 1558.1L811.8 1558.0L813.3 1557.9L814.8 1557.8L816.3 1557.7L817.8 1557.6L819.3 1557.5L820.8 1557.4L822.3 1557.3L823.8 1557.1L825.3 1557.0L826.8 1556.9L828.3 1556.7L829.8 1556.6L831.3 1556.4L832.8 1556.3L834.3 1556.1L835.8 1555.9L837.3 1555.8L838.8 1555.6L840.2 1555.5L841.7 1555.3L843.2 1555.2L844.7 1555.0L846.2 1554.9L847.7 1554.7L849.2 1554.6L850.7 1554.5L852.2 1554.3L853.7 1554.2L855.2 1554.1L856.7 1554.0L858.2 1553.9L859.7 1553.8L861.2 1553.7L862.7 1553.6L864.2 1553.5L865.7 1553.4L867.2 1553.3L868.7 1553.2L870.2 1553.1L871.7 1553.1L873.2 1553.0L874.7 1552.9L876.2 1552.9L877.7 1552.8L879.2 1552.8L880.7 1552.7L882.2 1552.7L883.7 1552.7L885.2 1552.6L886.7 1552.6L888.2 1552.6L889.7 1552.6L891.2 1552.5L892.7 1552.5L894.2 1552.5L895.7 1552.5L897.2 1552.5L898.7 1552.5L900.2 1552.5L901.7 1552.5L903.2 1552.5L904.7 1552.5L906.2 1552.5L907.7 1552.5L909.2 1552.5L910.7 1552.5L912.2 1552.6L913.7 1552.6L915.2 1552.6L916.7 1552.6L918.2 1552.6L919.7 1552.6L921.2 1552.6L922.7 1552.6L924.2 1552.6L925.7 1552.6L927.2 1552.6L928.7 1552.6L930.2 1552.6L931.7 1552.6L933.2 1552.6L934.7 1552.6L936.2 1552.6L937.7 1552.5L939.2 1552.5L940.7 1552.5L942.2 1552.5L943.7 1552.5L945.2 1552.4L946.7 1552.4L948.2 1552.4L949.7 1552.4L951.2 1552.4L952.7 1552.4L954.2 1552.4L955.7 1552.4L957.2 1552.4L958.7 1552.4L960.2 1552.4L961.7 1552.4L963.2 1552.4L964.7 1552.4L966.2 1552.4L967.7 1552.5L969.2 1552.5L970.7 1552.6L972.2 1552.6L973.7 1552.7L975.2 1552.7L976.7 1552.8L978.2 1552.9L979.7 1553.0L981.2 1553.1L982.7 1553.2L984.2 1553.3L985.7 1553.4L987.2 1553.6L988.7 1553.7L990.2 1553.8L991.7 1554.0L993.2 1554.2L994.6 1554.3L996.1 1554.5L997.6 1554.7L999.1 1554.8L1000.6 1555.0L1002.1 1555.2L1003.6 1555.4L1005.1 1555.6L1006.6 1555.8L1008.1 1556.0L1009.6 1556.2L1011.1 1556.4L1012.5 1556.6L1014.0 1556.8L1015.5 1557.0L1017.0 1557.2L1018.5 1557.3L1020.0 1557.5L1021.5 1557.7L1023.0 1557.8L1024.5 1557.9L1026.0 1558.0L1027.5 1558.1L1029.0 1558.2L1030.5 1558.2L1032.0 1558.2L1033.5 1558.2L1035.0 1558.2L1036.4 1558.2L1037.9 1558.1L1039.4 1558.0L1040.9 1557.9L1042.4 1557.8L1043.9 1557.7L1045.4 1557.6L1046.9 1557.5L1048.4 1557.3L1049.9 1557.2L1051.4 1557.0L1052.9 1556.9L1054.4 1556.7L1055.9 1556.5L1057.4 1556.4L1058.9 1556.2L1060.4 1556.1L1061.9 1555.9L1063.4 1555.8L1064.9 1555.6L1066.4 1555.5L1067.9 1555.3L1069.4 1555.2L1070.9 1555.1L1072.4 1555.0L1073.9 1554.9L1075.4 1554.8L1076.9 1554.7L1078.4 1554.6L1079.9 1554.6L1081.4 1554.5L1082.9 1554.4L1084.4 1554.4L1085.9 1554.3L1087.4 1554.2L1088.9 1554.2L1090.4 1554.1L1091.9 1554.1L1093.4 1554.0L1094.9 1554.0L1096.4 1553.9L1097.9 1553.9L1099.4 1553.9L1100.9 1553.8L1102.4 1553.8L1103.9 1553.7L1105.3 1553.7L1106.8 1553.6L1108.3 1553.6L1109.8 1553.6L1111.3 1553.5L1112.8 1553.5L1114.3 1553.4L1115.8 1553.4L1117.3 1553.3L1118.8 1553.3L1120.3 1553.2L1121.8 1553.2L1123.3 1553.1L1124.8 1553.1L1126.3 1553.0L1127.8 1553.0L1129.3 1552.9L1130.8 1552.9L1132.3 1552.8L1133.8 1552.7L1135.3 1552.7L1136.8 1552.6L1138.3 1552.5L1139.8 1552.5L1141.3 1552.4L1142.8 1552.3L1144.3 1552.2L1145.8 1552.2L1147.3 1552.1L1148.8 1552.0L1150.3 1551.9L1151.8 1551.8L1153.3 1551.7L1154.9 1551.6L1156.4 1551.5L1157.9 1551.5L1159.4 1551.4L1160.9 1551.3L1162.4 1551.2L1163.9 1551.1L1165.4 1551.1L1166.9 1551.0L1168.4 1550.9L1169.9 1550.9L1171.4 1550.9L1172.9 1550.8L1174.4 1550.8L1175.9 1550.8L1177.4 1550.8L1178.9 1550.8L1180.4 1550.8L1181.8 1550.8L1183.3 1550.8L1184.8 1550.9L1186.3 1550.9L1187.8 1551.0L1189.3 1551.1L1190.8 1551.2L1192.3 1551.3L1193.8 1551.4L1195.3 1551.5L1196.8 1551.6L1198.3 1551.8L1199.8 1551.9L1201.3 1552.1L1202.8 1552.3L1204.3 1552.4L1205.8 1552.6L1207.2 1552.8L1208.7 1553.0L1210.2 1553.2L1211.7 1553.4L1213.2 1553.6L1214.7 1553.8L1216.2 1554.0L1217.7 1554.2L1219.2 1554.4L1220.7 1554.6L1222.2 1554.7L1223.7 1554.9L1225.1 1555.1L1226.6 1555.3L1228.1 1555.5L1229.6 1555.7L1231.1 1555.8L1232.6 1556.0L1234.1 1556.2L1235.6 1556.3L1237.1 1556.5L1238.6 1556.6L1240.1 1556.7L1241.6 1556.8L1243.1 1556.9L1244.6 1557.0L1246.1 1557.1L1247.6 1557.2L1249.0 1557.2L1250.5 1557.2L1252.0 1557.3L1253.5 1557.3L1255.0 1557.3L1256.5 1557.3L1258.0 1557.3L1259.5 1557.2L1261.0 1557.2L1262.5 1557.1L1264.0 1557.1L1265.5 1557.0L1267.0 1557.0L1268.5 1556.9L1270.0 1556.8L1271.5 1556.7L1273.0 1556.6L1274.5 1556.6L1276.0 1556.5L1277.5 1556.4L1279.0 1556.3L1280.5 1556.2L1282.0 1556.2L1283.5 1556.1L1285.0 1556.0L1286.5 1555.9L1288.0 1555.9L1289.5 1555.8L1291.0 1555.7L1292.5 1555.7L1294.0 1555.6L1295.5 1555.6L1297.0 1555.5L1298.5 1555.5L1300.0 1555.4L1301.5 1555.4L1303.0 1555.3L1304.5 1555.3L1306.0 1555.3L1307.5 1555.2L1309.0 1555.2L1310.5 1555.1L1312.0 1555.1L1313.5 1555.1L1315.0 1555.0L1316.5 1555.0L1318.0 1554.9L1319.5 1554.9L1321.0 1554.8L1322.5 1554.8L1324.0 1554.7L1325.5 1554.6L1327.0 1554.6L1328.5 1554.5L1330.0 1554.4L1331.5 1554.4L1333.0 1554.3L1334.5 1554.2L1336.0 1554.1L1337.5 1554.1L1339.0 1554.0L1340.5 1553.9L1342.0 1553.8L1343.5 1553.7L1345.0 1553.6L1346.5 1553.5L1348.0 1553.4L1349.5 1553.4L1351.0 1553.3L1352.5 1553.2L1354.0 1553.1L1355.5 1553.0L1357.0 1552.9L1358.5 1552.8L1360.0 1552.7L1361.5 1552.6L1363.0 1552.5L1364.5 1552.5L1366.0 1552.4L1367.5 1552.3L1369.0 1552.2L1370.5 1552.1L1372.0 1552.0L1373.5 1552.0L1375.0 1551.9L1376.5 1551.8L1378.0 1551.8L1379.5 1551.7L1381.0 1551.6L1382.5 1551.6L1384.0 1551.5L1385.5 1551.5L1387.0 1551.5L1388.5 1551.4L1390.0 1551.4L1391.5 1551.4L1393.0 1551.4L1394.5 1551.4L1396.0 1551.4L1397.5 1551.4L1399.0 1551.4L1400.5 1551.4L1402.0 1551.5L1403.5 1551.5L1405.0 1551.5L1406.5 1551.6L1408.0 1551.7L1409.5 1551.7L1411.0 1551.8L1412.5 1551.9L1414.0 1552.0L1415.5 1552.1L1417.0 1552.2L1418.5 1552.3L1420.0 1552.4L1421.5 1552.5L1423.0 1552.6L1424.5 1552.7L1426.0 1552.9L1427.5 1553.0L1429.0 1553.1L1430.5 1553.2L1431.9 1553.4L1433.4 1553.5L1434.9 1553.6L1436.4 1553.8L1437.9 1553.9L1439.4 1554.1L1440.9 1554.2L1442.4 1554.3L1443.9 1554.5L1445.4 1554.6L1446.9 1554.7L1448.4 1554.9L1449.9 1555.0L1451.4 1555.1L1452.9 1555.2L1454.4 1555.3L1455.9 1555.4L1457.4 1555.5L1458.9 1555.6L1460.4 1555.7L1461.9 1555.8L1463.4 1555.9L1464.9 1555.9L1466.4 1556.0L1467.9 1556.1L1469.4 1556.1L1470.9 1556.2L1472.4 1556.2L1473.9 1556.2L1475.4 1556.3L1476.9 1556.3L1478.4 1556.3L1479.9 1556.3L1481.4 1556.3L1482.9 1556.4L1484.4 1556.4L1485.9 1556.4L1487.4 1556.4L1488.9 1556.4L1490.4 1556.4L1491.9 1556.4L1493.4 1556.4L1494.9 1556.4L1496.4 1556.4L1497.9 1556.4L1499.4 1556.4L1500.9 1556.4L1502.4 1556.4L1503.9 1556.4L1505.4 1556.4L1506.9 1556.4L1508.4 1556.4L1509.9 1556.4L1511.4 1556.4L1512.9 1556.4L1514.4 1556.4L1515.9 1556.4L1517.4 1556.4L1518.9 1556.4L1520.4 1556.4L1521.9 1556.4L1523.4 1556.4L1524.9 1556.4L1526.4 1556.4L1527.9 1556.4L1529.4 1556.4L1530.9 1556.4L1532.4 1556.4L1533.9 1556.4L1535.4 1556.3L1536.9 1556.3L1538.4 1556.3L1539.9 1556.3L1541.4 1556.3L1542.9 1556.2L1544.4 1556.2L1545.9 1556.2L1547.4 1556.1L1548.9 1556.1L1550.4 1556.0L1551.9 1555.9L1553.4 1555.9L1554.9 1555.8L1556.4 1555.7L1557.9 1555.7L1559.4 1555.6L1560.9 1555.5L1562.4 1555.4L1563.9 1555.3L1565.4 1555.2L1566.9 1555.1L1568.4 1554.9L1569.8 1554.8L1571.3 1554.7L1572.8 1554.6L1574.3 1554.4L1575.8 1554.3L1577.3 1554.2L1578.8 1554.0L1580.3 1553.9L1581.8 1553.8L1583.3 1553.6L1584.8 1553.5L1586.3 1553.4L1587.8 1553.2L1589.3 1553.1L1590.8 1552.9L1592.3 1552.8L1593.8 1552.6L1595.3 1552.5L1596.8 1552.4L1598.3 1552.2L1599.8 1552.1L1601.3 1552.0L1602.8 1551.8L1604.3 1551.7L1605.8 1551.6L1607.3 1551.5L1608.8 1551.4L1610.3 1551.3L1611.7 1551.2L1613.2 1551.2L1614.7 1551.1L1616.2 1551.0L1617.7 1551.0L1619.2 1550.9L1620.7 1550.9L1622.2 1550.9L1623.7 1550.9L1625.2 1550.9L1626.7 1550.9L1628.2 1551.0L1629.7 1551.0L1631.2 1551.1L1632.7 1551.1L1634.2 1551.2L1635.7 1551.3L1637.2 1551.4L1638.7 1551.5L1640.2 1551.6L1641.7 1551.7L1643.2 1551.8L1644.7 1551.9L1646.2 1552.0L1647.7 1552.1L1649.2 1552.2L1650.7 1552.3L1652.2 1552.4L1653.7 1552.6L1655.2 1552.7L1656.7 1552.8L1658.2 1552.9L1659.7 1553.0L1661.2 1553.1L1662.7 1553.2L1664.2 1553.3L1665.7 1553.4L1667.2 1553.5L1668.7 1553.5L1670.2 1553.6L1671.7 1553.7L1673.2 1553.8L1674.7 1553.9L1676.2 1553.9L1677.7 1554.0L1679.2 1554.1L1680.7 1554.2L1682.2 1554.3L1683.7 1554.3L1685.2 1554.4L1686.7 1554.5L1688.2 1554.6L1689.7 1554.6L1691.2 1554.7L1692.7 1554.8L1694.2 1554.9L1695.7 1554.9L1697.1 1555.0L1698.6 1555.1L1700.1 1555.2L1701.6 1555.3L1703.1 1555.3L1704.6 1555.4L1706.1 1555.5L1707.6 1555.6L1709.1 1555.7L1710.6 1555.8L1712.1 1555.8L1713.6 1555.9L1715.1 1556.0L1716.6 1556.1L1718.1 1556.2L1719.6 1556.3L1721.1 1556.3L1722.6 1556.4L1724.1 1556.5L1725.6 1556.6L1727.1 1556.7L1728.6 1556.7L1730.1 1556.8L1731.6 1556.9L1733.1 1557.0L1734.6 1557.0L1736.1 1557.1L1737.6 1557.2L1739.1 1557.2L1740.6 1557.3L1742.1 1557.4L1743.6 1557.4L1745.1 1557.5L1746.6 1557.5L1748.1 1557.6L1749.6 1557.6L1751.1 1557.6L1752.6 1557.7L1754.1 1557.7L1755.6 1557.7L1757.1 1557.7L1758.6 1557.8L1760.1 1557.8L1761.6 1557.8L1763.1 1557.7L1764.6 1557.7L1766.1 1557.7L1767.6 1557.7L1769.1 1557.6L1770.6 1557.6L1772.1 1557.5L1773.6 1557.5L1775.1 1557.4L1776.6 1557.3L1778.1 1557.3L1779.6 1557.2L1781.1 1557.1L1782.6 1557.0L1784.1 1556.9L1785.6 1556.8L1787.1 1556.7L1788.6 1556.6L1790.1 1556.5L1791.6 1556.3L1793.1 1556.2L1794.6 1556.1L1796.1 1556.0L1797.6 1555.9L1799.1 1555.7L1800.6 1555.6L1802.1 1555.5L1803.6 1555.4L1805.1 1555.2L1806.5 1555.1L1808.0 1555.0L1809.5 1554.8L1811.0 1554.7L1812.5 1554.6L1814.0 1554.5L1815.5 1554.3L1817.0 1554.2L1818.5 1554.1L1820.0 1554.0L1821.5 1553.9L1823.0 1553.8L1824.5 1553.7L1826.0 1553.5L1827.5 1553.4L1829.0 1553.3L1830.5 1553.2L1832.0 1553.1L1833.5 1553.1L1835.0 1553.0L1836.5 1552.9L1838.0 1552.8L1839.5 1552.7L1841.0 1552.7L1842.5 1552.6L1844.0 1552.5L1845.5 1552.5L1847.0 1552.4L1848.5 1552.4L1850.0 1552.3L1851.5 1552.3L1853.0 1552.2L1854.5 1552.2L1856.0 1552.2L1857.5 1552.2L1859.0 1552.1L1860.5 1552.1L1862.0 1552.1L1863.5 1552.1L1865.0 1552.1L1866.5 1552.1L1868.0 1552.1L1869.5 1552.2L1871.0 1552.2L1872.5 1552.2L1874.0 1552.2L1875.5 1552.2L1877.0 1552.3L1878.5 1552.3L1880.0 1552.3L1881.5 1552.4L1883.0 1552.4L1884.5 1552.5L1886.0 1552.5L1887.5 1552.5L1889.0 1552.6L1890.5 1552.6L1892.0 1552.7L1893.5 1552.7L1895.0 1552.7L1896.5 1552.8L1898.0 1552.8L1899.5 1552.9L1901.0 1552.9L1902.5 1552.9L1904.0 1553.0L1905.5 1553.0L1907.0 1553.0L1908.5 1553.1L1910.0 1553.1L1911.5 1553.1L1913.0 1553.1L1914.5 1553.2L1916.0 1553.2L1917.5 1553.2" fill="none" stroke="#ff0000" stroke-width="6.3" stroke-linejoin="round"/>
<g class="legend">
<rect x="1483" y="1151.5" width="394" height="151" fill="#262626"/>
<rect x="1486.5" y="1154.5" width="387.5" height="145" fill="#fff"/>
<line x1="1500" y1="1193" x2="1653" y2="1193" stroke="#0072bd" stroke-width="11.0" stroke-dasharray="31.2 29.65"/>
<line x1="1500" y1="1260.5" x2="1653" y2="1260.5" stroke="#ff0000" stroke-width="6"/>
<text class="leg" x="1661.8" y="1213.2">Normal</text>
<text class="leg" x="1662.3" y="1280.7">Laguerre</text>
</g>
<g class="ticklabels">
<text class="tk" text-anchor="middle" x="211.5" y="1635.5">0</text>
<text class="tk" text-anchor="middle" x="552.5" y="1635.5">100</text>
<text class="tk" text-anchor="middle" x="893.5" y="1635.5">200</text>
<text class="tk" text-anchor="middle" x="1234.5" y="1635.5">300</text>
<text class="tk" text-anchor="middle" x="1575.5" y="1635.5">400</text>
<text class="tk" text-anchor="middle" x="1916.5" y="1635.5">500</text>
<text class="tk" text-anchor="end" x="189" y="1574">0</text>
<text class="tk" text-anchor="end" x="189" y="1444.3">0.2</text>
<text class="tk" text-anchor="end" x="189" y="1314.8">0.4</text>
<text class="tk" text-anchor="end" x="189" y="1185.8">0.6</text>
</g>
<text class="lab" text-anchor="middle" transform="translate(81.8 1346.6) rotate(-90)"><tspan class="it">r</tspan>/°·s<tspan class="sup" dy="-30.4">−1</tspan></text>
</g>
<text class="lab" text-anchor="middle" x="1061.8" y="1719.8"><tspan class="it">t</tspan>/s</text>
</svg>
</body>
</html>
